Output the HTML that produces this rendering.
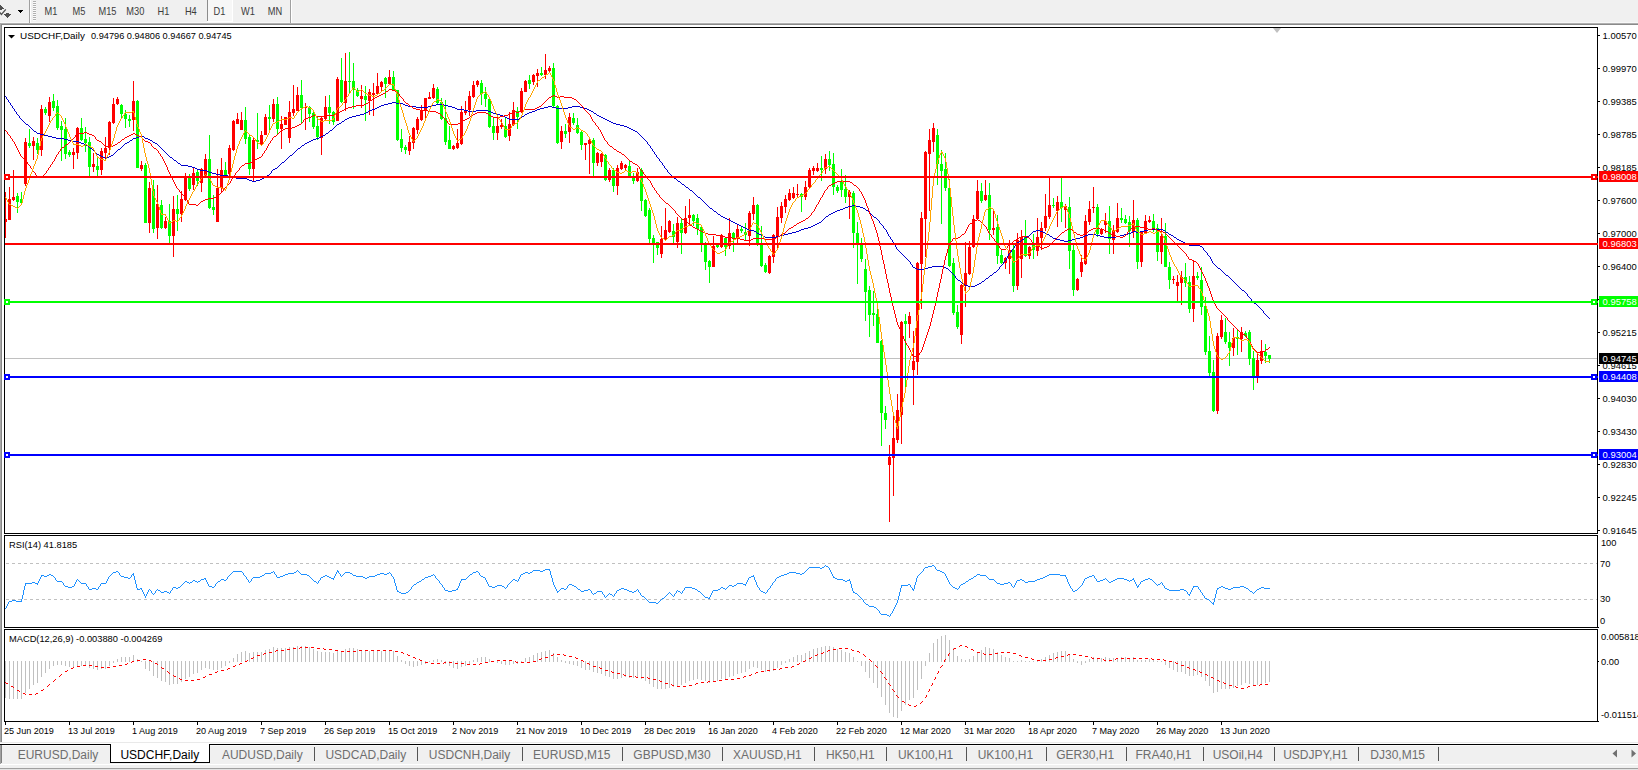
<!DOCTYPE html><html><head><meta charset="utf-8"><title>USDCHF,Daily</title><style>html,body{margin:0;padding:0;background:#fff;width:1638px;height:770px;overflow:hidden}</style></head><body><svg width="1638" height="770" viewBox="0 0 1638 770" style="position:absolute;left:0;top:0;font-family:'Liberation Sans',sans-serif">
<rect x="0" y="0" width="1638" height="770" fill="#ffffff"/>
<g shape-rendering="crispEdges">
<rect x="0" y="0" width="1638" height="23" fill="#f0f0f0"/>
<rect x="0" y="22" width="1638" height="1" fill="#f8f8f8"/>
<rect x="29" y="0" width="1" height="23" fill="#a0a0a0"/><rect x="30" y="0" width="1" height="23" fill="#ffffff"/>
<rect x="33" y="1" width="3" height="1" fill="#b0b0b0"/><rect x="33" y="2" width="3" height="1" fill="#fbfbfb"/>
<rect x="33" y="3" width="3" height="1" fill="#b0b0b0"/><rect x="33" y="4" width="3" height="1" fill="#fbfbfb"/>
<rect x="33" y="5" width="3" height="1" fill="#b0b0b0"/><rect x="33" y="6" width="3" height="1" fill="#fbfbfb"/>
<rect x="33" y="7" width="3" height="1" fill="#b0b0b0"/><rect x="33" y="8" width="3" height="1" fill="#fbfbfb"/>
<rect x="33" y="9" width="3" height="1" fill="#b0b0b0"/><rect x="33" y="10" width="3" height="1" fill="#fbfbfb"/>
<rect x="33" y="11" width="3" height="1" fill="#b0b0b0"/><rect x="33" y="12" width="3" height="1" fill="#fbfbfb"/>
<rect x="33" y="13" width="3" height="1" fill="#b0b0b0"/><rect x="33" y="14" width="3" height="1" fill="#fbfbfb"/>
<rect x="33" y="15" width="3" height="1" fill="#b0b0b0"/><rect x="33" y="16" width="3" height="1" fill="#fbfbfb"/>
<rect x="33" y="17" width="3" height="1" fill="#b0b0b0"/><rect x="33" y="18" width="3" height="1" fill="#fbfbfb"/>
<rect x="33" y="19" width="3" height="1" fill="#b0b0b0"/><rect x="33" y="20" width="3" height="1" fill="#fbfbfb"/>
<rect x="208" y="0" width="24" height="21" fill="#f7f7f7"/>
<rect x="207" y="0" width="1" height="21" fill="#8c8c8c"/>
<rect x="207" y="21" width="26" height="1" fill="#ffffff"/><rect x="232" y="0" width="1" height="21" fill="#ffffff"/>
<rect x="290" y="0" width="1" height="23" fill="#a0a0a0"/><rect x="291" y="0" width="1" height="23" fill="#ffffff"/>
<rect x="18" y="10" width="5" height="1" fill="#000"/><rect x="19" y="11" width="3" height="1" fill="#000"/><rect x="20" y="12" width="1" height="1" fill="#000"/>
<rect x="0" y="5" width="1" height="1" fill="#505050"/>
<rect x="0" y="6" width="2" height="1" fill="#505050"/>
<rect x="0" y="7" width="3" height="1" fill="#505050"/>
<rect x="0" y="8" width="4" height="1" fill="#505050"/>
<rect x="0" y="9" width="2" height="1" fill="#505050"/>
<rect x="6" y="13" width="3" height="1" fill="#505050"/>
<rect x="4" y="14" width="7" height="1" fill="#505050"/>
<rect x="5" y="15" width="5" height="1" fill="#505050"/>
<rect x="6" y="16" width="3" height="1" fill="#505050"/>
<rect x="7" y="17" width="1" height="1" fill="#505050"/>
</g>
<path d="M-0.5 12.2 L1.4 14.4 L5.8 9.4" fill="none" stroke="#505050" stroke-width="1.3"/>
<text transform="translate(51 14.9) scale(0.9000 1)" font-size="10.3" fill="#3c3c3c" text-anchor="middle">M1</text>
<text transform="translate(79 14.9) scale(0.9000 1)" font-size="10.3" fill="#3c3c3c" text-anchor="middle">M5</text>
<text transform="translate(107.5 14.9) scale(0.9000 1)" font-size="10.3" fill="#3c3c3c" text-anchor="middle">M15</text>
<text transform="translate(135.3 14.9) scale(0.9000 1)" font-size="10.3" fill="#3c3c3c" text-anchor="middle">M30</text>
<text transform="translate(163.5 14.9) scale(0.9000 1)" font-size="10.3" fill="#3c3c3c" text-anchor="middle">H1</text>
<text transform="translate(190.8 14.9) scale(0.9000 1)" font-size="10.3" fill="#3c3c3c" text-anchor="middle">H4</text>
<text transform="translate(219.5 14.9) scale(0.9000 1)" font-size="10.3" fill="#3c3c3c" text-anchor="middle">D1</text>
<text transform="translate(248 14.9) scale(0.9000 1)" font-size="10.3" fill="#3c3c3c" text-anchor="middle">W1</text>
<text transform="translate(274.9 14.9) scale(0.9000 1)" font-size="10.3" fill="#3c3c3c" text-anchor="middle">MN</text>
<g shape-rendering="crispEdges">
<rect x="0" y="23" width="1638" height="1" fill="#b0b0b0"/><rect x="0" y="24" width="1638" height="1" fill="#8a8a8a"/>
<rect x="0" y="23" width="1" height="719" fill="#a8a8a8"/><rect x="1" y="24" width="1" height="718" fill="#888888"/>
</g>
<g shape-rendering="crispEdges">
<rect x="1598" y="35" width="2" height="1" fill="#000"/>
<rect x="1598" y="68" width="2" height="1" fill="#000"/>
<rect x="1598" y="101" width="2" height="1" fill="#000"/>
<rect x="1598" y="134" width="2" height="1" fill="#000"/>
<rect x="1598" y="167" width="2" height="1" fill="#000"/>
<rect x="1598" y="200" width="2" height="1" fill="#000"/>
<rect x="1598" y="233" width="2" height="1" fill="#000"/>
<rect x="1598" y="266" width="2" height="1" fill="#000"/>
<rect x="1598" y="299" width="2" height="1" fill="#000"/>
<rect x="1598" y="332" width="2" height="1" fill="#000"/>
<rect x="1598" y="365" width="2" height="1" fill="#000"/>
<rect x="1598" y="398" width="2" height="1" fill="#000"/>
<rect x="1598" y="431" width="2" height="1" fill="#000"/>
<rect x="1598" y="464" width="2" height="1" fill="#000"/>
<rect x="1598" y="497" width="2" height="1" fill="#000"/>
<rect x="1598" y="530" width="2" height="1" fill="#000"/>
</g>
<text transform="translate(1602.6 38.7) scale(0.9530 1)" font-size="9.9" fill="#000" text-anchor="start">1.00570</text>
<text transform="translate(1602.6 71.7) scale(0.9530 1)" font-size="9.9" fill="#000" text-anchor="start">0.99970</text>
<text transform="translate(1602.6 104.7) scale(0.9530 1)" font-size="9.9" fill="#000" text-anchor="start">0.99385</text>
<text transform="translate(1602.6 137.7) scale(0.9530 1)" font-size="9.9" fill="#000" text-anchor="start">0.98785</text>
<text transform="translate(1602.6 170.7) scale(0.9530 1)" font-size="9.9" fill="#000" text-anchor="start">0.98185</text>
<text transform="translate(1602.6 203.7) scale(0.9530 1)" font-size="9.9" fill="#000" text-anchor="start">0.97600</text>
<text transform="translate(1602.6 236.7) scale(0.9530 1)" font-size="9.9" fill="#000" text-anchor="start">0.97000</text>
<text transform="translate(1602.6 269.7) scale(0.9530 1)" font-size="9.9" fill="#000" text-anchor="start">0.96400</text>
<text transform="translate(1602.6 302.7) scale(0.9530 1)" font-size="9.9" fill="#000" text-anchor="start">0.95800</text>
<text transform="translate(1602.6 335.7) scale(0.9530 1)" font-size="9.9" fill="#000" text-anchor="start">0.95215</text>
<text transform="translate(1602.6 368.7) scale(0.9530 1)" font-size="9.9" fill="#000" text-anchor="start">0.94615</text>
<text transform="translate(1602.6 401.7) scale(0.9530 1)" font-size="9.9" fill="#000" text-anchor="start">0.94030</text>
<text transform="translate(1602.6 434.7) scale(0.9530 1)" font-size="9.9" fill="#000" text-anchor="start">0.93430</text>
<text transform="translate(1602.6 467.7) scale(0.9530 1)" font-size="9.9" fill="#000" text-anchor="start">0.92830</text>
<text transform="translate(1602.6 500.7) scale(0.9530 1)" font-size="9.9" fill="#000" text-anchor="start">0.92245</text>
<text transform="translate(1602.6 533.7) scale(0.9530 1)" font-size="9.9" fill="#000" text-anchor="start">0.91645</text>
<g shape-rendering="crispEdges">
<rect x="5" y="358" width="1593" height="1" fill="#c0c0c0"/>
</g>
<g shape-rendering="crispEdges">
<rect x="5" y="192" width="1" height="46" fill="#ff0000"/>
<rect x="4" y="219" width="3" height="3" fill="#ff0000"/>
<rect x="9" y="187" width="1" height="33" fill="#ff0000"/>
<rect x="8" y="199" width="3" height="21" fill="#ff0000"/>
<rect x="13" y="170" width="1" height="31" fill="#ff0000"/>
<rect x="12" y="197" width="3" height="3" fill="#ff0000"/>
<rect x="17" y="193" width="1" height="20" fill="#00ff00"/>
<rect x="16" y="196" width="3" height="6" fill="#00ff00"/>
<rect x="21" y="192" width="1" height="12" fill="#00ff00"/>
<rect x="20" y="199" width="3" height="4" fill="#00ff00"/>
<rect x="25" y="138" width="1" height="48" fill="#ff0000"/>
<rect x="24" y="142" width="3" height="42" fill="#ff0000"/>
<rect x="29" y="129" width="1" height="19" fill="#00ff00"/>
<rect x="28" y="143" width="3" height="3" fill="#00ff00"/>
<rect x="33" y="137" width="1" height="23" fill="#ff0000"/>
<rect x="32" y="141" width="3" height="5" fill="#ff0000"/>
<rect x="37" y="138" width="1" height="16" fill="#00ff00"/>
<rect x="36" y="143" width="3" height="7" fill="#00ff00"/>
<rect x="41" y="105" width="1" height="51" fill="#ff0000"/>
<rect x="40" y="109" width="3" height="41" fill="#ff0000"/>
<rect x="45" y="107" width="1" height="8" fill="#00ff00"/>
<rect x="44" y="109" width="3" height="4" fill="#00ff00"/>
<rect x="49" y="97" width="1" height="25" fill="#ff0000"/>
<rect x="48" y="102" width="3" height="14" fill="#ff0000"/>
<rect x="53" y="94" width="1" height="17" fill="#00ff00"/>
<rect x="52" y="101" width="3" height="7" fill="#00ff00"/>
<rect x="57" y="100" width="1" height="30" fill="#00ff00"/>
<rect x="56" y="106" width="3" height="22" fill="#00ff00"/>
<rect x="61" y="121" width="1" height="40" fill="#00ff00"/>
<rect x="60" y="126" width="3" height="4" fill="#00ff00"/>
<rect x="65" y="118" width="1" height="41" fill="#00ff00"/>
<rect x="64" y="129" width="3" height="25" fill="#00ff00"/>
<rect x="69" y="150" width="1" height="7" fill="#00ff00"/>
<rect x="68" y="152" width="3" height="3" fill="#00ff00"/>
<rect x="73" y="148" width="1" height="21" fill="#ff0000"/>
<rect x="72" y="152" width="3" height="3" fill="#ff0000"/>
<rect x="77" y="127" width="1" height="32" fill="#ff0000"/>
<rect x="76" y="128" width="3" height="25" fill="#ff0000"/>
<rect x="81" y="118" width="1" height="23" fill="#00ff00"/>
<rect x="80" y="128" width="3" height="12" fill="#00ff00"/>
<rect x="85" y="127" width="1" height="25" fill="#00ff00"/>
<rect x="84" y="139" width="3" height="4" fill="#00ff00"/>
<rect x="89" y="137" width="1" height="39" fill="#00ff00"/>
<rect x="88" y="142" width="3" height="25" fill="#00ff00"/>
<rect x="93" y="153" width="1" height="19" fill="#ff0000"/>
<rect x="92" y="164" width="3" height="3" fill="#ff0000"/>
<rect x="97" y="158" width="1" height="18" fill="#00ff00"/>
<rect x="96" y="166" width="3" height="4" fill="#00ff00"/>
<rect x="101" y="148" width="1" height="27" fill="#ff0000"/>
<rect x="100" y="151" width="3" height="19" fill="#ff0000"/>
<rect x="105" y="137" width="1" height="22" fill="#ff0000"/>
<rect x="104" y="148" width="3" height="5" fill="#ff0000"/>
<rect x="109" y="121" width="1" height="34" fill="#ff0000"/>
<rect x="108" y="122" width="3" height="26" fill="#ff0000"/>
<rect x="113" y="98" width="1" height="26" fill="#ff0000"/>
<rect x="112" y="104" width="3" height="19" fill="#ff0000"/>
<rect x="117" y="97" width="1" height="8" fill="#ff0000"/>
<rect x="116" y="99" width="3" height="5" fill="#ff0000"/>
<rect x="121" y="104" width="1" height="15" fill="#00ff00"/>
<rect x="120" y="105" width="3" height="9" fill="#00ff00"/>
<rect x="125" y="110" width="1" height="18" fill="#00ff00"/>
<rect x="124" y="114" width="3" height="5" fill="#00ff00"/>
<rect x="129" y="115" width="1" height="12" fill="#00ff00"/>
<rect x="128" y="119" width="3" height="2" fill="#00ff00"/>
<rect x="133" y="81" width="1" height="50" fill="#ff0000"/>
<rect x="132" y="101" width="3" height="19" fill="#ff0000"/>
<rect x="137" y="100" width="1" height="68" fill="#00ff00"/>
<rect x="136" y="101" width="3" height="67" fill="#00ff00"/>
<rect x="141" y="161" width="1" height="10" fill="#ff0000"/>
<rect x="140" y="165" width="3" height="4" fill="#ff0000"/>
<rect x="145" y="163" width="1" height="60" fill="#00ff00"/>
<rect x="144" y="165" width="3" height="58" fill="#00ff00"/>
<rect x="149" y="182" width="1" height="51" fill="#ff0000"/>
<rect x="148" y="188" width="3" height="35" fill="#ff0000"/>
<rect x="153" y="180" width="1" height="53" fill="#00ff00"/>
<rect x="152" y="189" width="3" height="40" fill="#00ff00"/>
<rect x="157" y="185" width="1" height="54" fill="#ff0000"/>
<rect x="156" y="204" width="3" height="24" fill="#ff0000"/>
<rect x="161" y="200" width="1" height="29" fill="#00ff00"/>
<rect x="160" y="205" width="3" height="23" fill="#00ff00"/>
<rect x="165" y="217" width="1" height="12" fill="#ff0000"/>
<rect x="164" y="221" width="3" height="7" fill="#ff0000"/>
<rect x="169" y="204" width="1" height="39" fill="#00ff00"/>
<rect x="168" y="221" width="3" height="15" fill="#00ff00"/>
<rect x="173" y="196" width="1" height="61" fill="#ff0000"/>
<rect x="172" y="209" width="3" height="27" fill="#ff0000"/>
<rect x="177" y="195" width="1" height="36" fill="#00ff00"/>
<rect x="176" y="209" width="3" height="5" fill="#00ff00"/>
<rect x="181" y="191" width="1" height="31" fill="#ff0000"/>
<rect x="180" y="199" width="3" height="15" fill="#ff0000"/>
<rect x="185" y="173" width="1" height="28" fill="#ff0000"/>
<rect x="184" y="178" width="3" height="22" fill="#ff0000"/>
<rect x="189" y="174" width="1" height="17" fill="#00ff00"/>
<rect x="188" y="178" width="3" height="11" fill="#00ff00"/>
<rect x="193" y="167" width="1" height="23" fill="#ff0000"/>
<rect x="192" y="173" width="3" height="12" fill="#ff0000"/>
<rect x="197" y="170" width="1" height="16" fill="#00ff00"/>
<rect x="196" y="172" width="3" height="9" fill="#00ff00"/>
<rect x="201" y="168" width="1" height="24" fill="#ff0000"/>
<rect x="200" y="169" width="3" height="14" fill="#ff0000"/>
<rect x="205" y="154" width="1" height="23" fill="#ff0000"/>
<rect x="204" y="159" width="3" height="16" fill="#ff0000"/>
<rect x="209" y="135" width="1" height="74" fill="#00ff00"/>
<rect x="208" y="159" width="3" height="49" fill="#00ff00"/>
<rect x="213" y="195" width="1" height="20" fill="#00ff00"/>
<rect x="212" y="207" width="3" height="3" fill="#00ff00"/>
<rect x="217" y="169" width="1" height="53" fill="#ff0000"/>
<rect x="216" y="188" width="3" height="34" fill="#ff0000"/>
<rect x="221" y="158" width="1" height="35" fill="#ff0000"/>
<rect x="220" y="170" width="3" height="18" fill="#ff0000"/>
<rect x="225" y="162" width="1" height="15" fill="#00ff00"/>
<rect x="224" y="170" width="3" height="5" fill="#00ff00"/>
<rect x="229" y="145" width="1" height="31" fill="#ff0000"/>
<rect x="228" y="148" width="3" height="26" fill="#ff0000"/>
<rect x="233" y="120" width="1" height="31" fill="#ff0000"/>
<rect x="232" y="121" width="3" height="29" fill="#ff0000"/>
<rect x="237" y="113" width="1" height="11" fill="#ff0000"/>
<rect x="236" y="119" width="3" height="5" fill="#ff0000"/>
<rect x="241" y="112" width="1" height="18" fill="#ff0000"/>
<rect x="240" y="120" width="3" height="10" fill="#ff0000"/>
<rect x="245" y="107" width="1" height="37" fill="#00ff00"/>
<rect x="244" y="120" width="3" height="19" fill="#00ff00"/>
<rect x="249" y="134" width="1" height="41" fill="#00ff00"/>
<rect x="248" y="137" width="3" height="32" fill="#00ff00"/>
<rect x="253" y="138" width="1" height="43" fill="#ff0000"/>
<rect x="252" y="140" width="3" height="29" fill="#ff0000"/>
<rect x="257" y="113" width="1" height="36" fill="#00ff00"/>
<rect x="256" y="140" width="3" height="2" fill="#00ff00"/>
<rect x="261" y="131" width="1" height="15" fill="#ff0000"/>
<rect x="260" y="135" width="3" height="9" fill="#ff0000"/>
<rect x="265" y="114" width="1" height="21" fill="#ff0000"/>
<rect x="264" y="117" width="3" height="18" fill="#ff0000"/>
<rect x="269" y="105" width="1" height="25" fill="#00ff00"/>
<rect x="268" y="117" width="3" height="2" fill="#00ff00"/>
<rect x="273" y="99" width="1" height="23" fill="#ff0000"/>
<rect x="272" y="104" width="3" height="15" fill="#ff0000"/>
<rect x="277" y="97" width="1" height="37" fill="#00ff00"/>
<rect x="276" y="104" width="3" height="25" fill="#00ff00"/>
<rect x="281" y="116" width="1" height="33" fill="#ff0000"/>
<rect x="280" y="124" width="3" height="5" fill="#ff0000"/>
<rect x="285" y="117" width="1" height="8" fill="#ff0000"/>
<rect x="284" y="117" width="3" height="8" fill="#ff0000"/>
<rect x="289" y="101" width="1" height="42" fill="#ff0000"/>
<rect x="288" y="112" width="3" height="26" fill="#ff0000"/>
<rect x="293" y="85" width="1" height="31" fill="#ff0000"/>
<rect x="292" y="109" width="3" height="4" fill="#ff0000"/>
<rect x="297" y="87" width="1" height="24" fill="#ff0000"/>
<rect x="296" y="95" width="3" height="16" fill="#ff0000"/>
<rect x="301" y="80" width="1" height="44" fill="#00ff00"/>
<rect x="300" y="95" width="3" height="13" fill="#00ff00"/>
<rect x="305" y="103" width="1" height="27" fill="#ff0000"/>
<rect x="304" y="107" width="3" height="1" fill="#ff0000"/>
<rect x="309" y="106" width="1" height="16" fill="#00ff00"/>
<rect x="308" y="107" width="3" height="7" fill="#00ff00"/>
<rect x="313" y="111" width="1" height="18" fill="#00ff00"/>
<rect x="312" y="113" width="3" height="14" fill="#00ff00"/>
<rect x="317" y="117" width="1" height="23" fill="#00ff00"/>
<rect x="316" y="126" width="3" height="11" fill="#00ff00"/>
<rect x="321" y="117" width="1" height="38" fill="#ff0000"/>
<rect x="320" y="118" width="3" height="20" fill="#ff0000"/>
<rect x="325" y="96" width="1" height="24" fill="#ff0000"/>
<rect x="324" y="107" width="3" height="12" fill="#ff0000"/>
<rect x="329" y="95" width="1" height="29" fill="#00ff00"/>
<rect x="328" y="107" width="3" height="6" fill="#00ff00"/>
<rect x="333" y="111" width="1" height="14" fill="#00ff00"/>
<rect x="332" y="112" width="3" height="10" fill="#00ff00"/>
<rect x="337" y="77" width="1" height="44" fill="#ff0000"/>
<rect x="336" y="79" width="3" height="42" fill="#ff0000"/>
<rect x="341" y="58" width="1" height="45" fill="#00ff00"/>
<rect x="340" y="80" width="3" height="22" fill="#00ff00"/>
<rect x="345" y="53" width="1" height="58" fill="#ff0000"/>
<rect x="344" y="81" width="3" height="22" fill="#ff0000"/>
<rect x="349" y="52" width="1" height="42" fill="#00ff00"/>
<rect x="348" y="81" width="3" height="1" fill="#00ff00"/>
<rect x="353" y="63" width="1" height="46" fill="#00ff00"/>
<rect x="352" y="81" width="3" height="9" fill="#00ff00"/>
<rect x="357" y="88" width="1" height="9" fill="#00ff00"/>
<rect x="356" y="90" width="3" height="6" fill="#00ff00"/>
<rect x="361" y="85" width="1" height="23" fill="#ff0000"/>
<rect x="360" y="96" width="3" height="3" fill="#ff0000"/>
<rect x="365" y="86" width="1" height="35" fill="#00ff00"/>
<rect x="364" y="96" width="3" height="4" fill="#00ff00"/>
<rect x="369" y="89" width="1" height="26" fill="#ff0000"/>
<rect x="368" y="92" width="3" height="9" fill="#ff0000"/>
<rect x="373" y="83" width="1" height="33" fill="#ff0000"/>
<rect x="372" y="93" width="3" height="2" fill="#ff0000"/>
<rect x="377" y="73" width="1" height="21" fill="#ff0000"/>
<rect x="376" y="86" width="3" height="8" fill="#ff0000"/>
<rect x="381" y="81" width="1" height="11" fill="#ff0000"/>
<rect x="380" y="82" width="3" height="5" fill="#ff0000"/>
<rect x="385" y="77" width="1" height="21" fill="#00ff00"/>
<rect x="384" y="78" width="3" height="6" fill="#00ff00"/>
<rect x="389" y="70" width="1" height="15" fill="#ff0000"/>
<rect x="388" y="77" width="3" height="7" fill="#ff0000"/>
<rect x="393" y="71" width="1" height="20" fill="#00ff00"/>
<rect x="392" y="77" width="3" height="13" fill="#00ff00"/>
<rect x="397" y="90" width="1" height="51" fill="#00ff00"/>
<rect x="396" y="90" width="3" height="50" fill="#00ff00"/>
<rect x="401" y="129" width="1" height="23" fill="#00ff00"/>
<rect x="400" y="139" width="3" height="9" fill="#00ff00"/>
<rect x="405" y="145" width="1" height="9" fill="#00ff00"/>
<rect x="404" y="147" width="3" height="3" fill="#00ff00"/>
<rect x="409" y="136" width="1" height="19" fill="#ff0000"/>
<rect x="408" y="142" width="3" height="9" fill="#ff0000"/>
<rect x="413" y="127" width="1" height="22" fill="#ff0000"/>
<rect x="412" y="128" width="3" height="15" fill="#ff0000"/>
<rect x="417" y="117" width="1" height="17" fill="#ff0000"/>
<rect x="416" y="119" width="3" height="11" fill="#ff0000"/>
<rect x="421" y="105" width="1" height="16" fill="#ff0000"/>
<rect x="420" y="110" width="3" height="10" fill="#ff0000"/>
<rect x="425" y="98" width="1" height="20" fill="#ff0000"/>
<rect x="424" y="98" width="3" height="12" fill="#ff0000"/>
<rect x="429" y="92" width="1" height="7" fill="#ff0000"/>
<rect x="428" y="97" width="3" height="2" fill="#ff0000"/>
<rect x="433" y="84" width="1" height="15" fill="#ff0000"/>
<rect x="432" y="88" width="3" height="10" fill="#ff0000"/>
<rect x="437" y="87" width="1" height="17" fill="#00ff00"/>
<rect x="436" y="89" width="3" height="14" fill="#00ff00"/>
<rect x="441" y="98" width="1" height="22" fill="#00ff00"/>
<rect x="440" y="102" width="3" height="17" fill="#00ff00"/>
<rect x="445" y="100" width="1" height="45" fill="#00ff00"/>
<rect x="444" y="118" width="3" height="24" fill="#00ff00"/>
<rect x="449" y="126" width="1" height="23" fill="#00ff00"/>
<rect x="448" y="140" width="3" height="9" fill="#00ff00"/>
<rect x="453" y="145" width="1" height="5" fill="#ff0000"/>
<rect x="452" y="146" width="3" height="3" fill="#ff0000"/>
<rect x="457" y="129" width="1" height="20" fill="#ff0000"/>
<rect x="456" y="143" width="3" height="5" fill="#ff0000"/>
<rect x="461" y="106" width="1" height="39" fill="#ff0000"/>
<rect x="460" y="112" width="3" height="32" fill="#ff0000"/>
<rect x="465" y="101" width="1" height="14" fill="#ff0000"/>
<rect x="464" y="110" width="3" height="3" fill="#ff0000"/>
<rect x="469" y="91" width="1" height="25" fill="#ff0000"/>
<rect x="468" y="96" width="3" height="14" fill="#ff0000"/>
<rect x="473" y="81" width="1" height="17" fill="#ff0000"/>
<rect x="472" y="85" width="3" height="12" fill="#ff0000"/>
<rect x="477" y="80" width="1" height="7" fill="#ff0000"/>
<rect x="476" y="81" width="3" height="4" fill="#ff0000"/>
<rect x="481" y="80" width="1" height="25" fill="#00ff00"/>
<rect x="480" y="83" width="3" height="11" fill="#00ff00"/>
<rect x="485" y="87" width="1" height="20" fill="#00ff00"/>
<rect x="484" y="94" width="3" height="5" fill="#00ff00"/>
<rect x="489" y="98" width="1" height="30" fill="#00ff00"/>
<rect x="488" y="99" width="3" height="28" fill="#00ff00"/>
<rect x="493" y="118" width="1" height="22" fill="#00ff00"/>
<rect x="492" y="126" width="3" height="7" fill="#00ff00"/>
<rect x="497" y="117" width="1" height="23" fill="#ff0000"/>
<rect x="496" y="126" width="3" height="7" fill="#ff0000"/>
<rect x="501" y="119" width="1" height="10" fill="#ff0000"/>
<rect x="500" y="125" width="3" height="2" fill="#ff0000"/>
<rect x="505" y="117" width="1" height="21" fill="#00ff00"/>
<rect x="504" y="126" width="3" height="11" fill="#00ff00"/>
<rect x="509" y="112" width="1" height="29" fill="#ff0000"/>
<rect x="508" y="124" width="3" height="12" fill="#ff0000"/>
<rect x="513" y="102" width="1" height="24" fill="#ff0000"/>
<rect x="512" y="110" width="3" height="15" fill="#ff0000"/>
<rect x="517" y="107" width="1" height="22" fill="#00ff00"/>
<rect x="516" y="111" width="3" height="6" fill="#00ff00"/>
<rect x="521" y="88" width="1" height="25" fill="#ff0000"/>
<rect x="520" y="91" width="3" height="21" fill="#ff0000"/>
<rect x="525" y="80" width="1" height="12" fill="#ff0000"/>
<rect x="524" y="81" width="3" height="11" fill="#ff0000"/>
<rect x="529" y="75" width="1" height="14" fill="#00ff00"/>
<rect x="528" y="80" width="3" height="4" fill="#00ff00"/>
<rect x="533" y="74" width="1" height="11" fill="#ff0000"/>
<rect x="532" y="75" width="3" height="7" fill="#ff0000"/>
<rect x="537" y="69" width="1" height="18" fill="#ff0000"/>
<rect x="536" y="73" width="3" height="3" fill="#ff0000"/>
<rect x="541" y="67" width="1" height="9" fill="#00ff00"/>
<rect x="540" y="73" width="3" height="2" fill="#00ff00"/>
<rect x="545" y="54" width="1" height="25" fill="#ff0000"/>
<rect x="544" y="70" width="3" height="5" fill="#ff0000"/>
<rect x="549" y="66" width="1" height="6" fill="#ff0000"/>
<rect x="548" y="68" width="3" height="3" fill="#ff0000"/>
<rect x="553" y="63" width="1" height="44" fill="#00ff00"/>
<rect x="552" y="68" width="3" height="38" fill="#00ff00"/>
<rect x="557" y="105" width="1" height="39" fill="#00ff00"/>
<rect x="556" y="106" width="3" height="37" fill="#00ff00"/>
<rect x="561" y="126" width="1" height="23" fill="#ff0000"/>
<rect x="560" y="131" width="3" height="11" fill="#ff0000"/>
<rect x="565" y="124" width="1" height="14" fill="#00ff00"/>
<rect x="564" y="131" width="3" height="3" fill="#00ff00"/>
<rect x="569" y="113" width="1" height="30" fill="#ff0000"/>
<rect x="568" y="117" width="3" height="15" fill="#ff0000"/>
<rect x="573" y="113" width="1" height="12" fill="#00ff00"/>
<rect x="572" y="118" width="3" height="5" fill="#00ff00"/>
<rect x="577" y="118" width="1" height="16" fill="#00ff00"/>
<rect x="576" y="125" width="3" height="8" fill="#00ff00"/>
<rect x="581" y="130" width="1" height="20" fill="#00ff00"/>
<rect x="580" y="132" width="3" height="13" fill="#00ff00"/>
<rect x="585" y="143" width="1" height="17" fill="#ff0000"/>
<rect x="584" y="143" width="3" height="2" fill="#ff0000"/>
<rect x="589" y="138" width="1" height="36" fill="#ff0000"/>
<rect x="588" y="140" width="3" height="4" fill="#ff0000"/>
<rect x="593" y="138" width="1" height="38" fill="#00ff00"/>
<rect x="592" y="140" width="3" height="23" fill="#00ff00"/>
<rect x="597" y="152" width="1" height="14" fill="#ff0000"/>
<rect x="596" y="153" width="3" height="10" fill="#ff0000"/>
<rect x="601" y="153" width="1" height="14" fill="#ff0000"/>
<rect x="600" y="154" width="3" height="8" fill="#ff0000"/>
<rect x="605" y="154" width="1" height="27" fill="#00ff00"/>
<rect x="604" y="155" width="3" height="25" fill="#00ff00"/>
<rect x="609" y="168" width="1" height="14" fill="#ff0000"/>
<rect x="608" y="170" width="3" height="10" fill="#ff0000"/>
<rect x="613" y="168" width="1" height="24" fill="#00ff00"/>
<rect x="612" y="170" width="3" height="16" fill="#00ff00"/>
<rect x="617" y="165" width="1" height="30" fill="#ff0000"/>
<rect x="616" y="168" width="3" height="18" fill="#ff0000"/>
<rect x="621" y="161" width="1" height="9" fill="#ff0000"/>
<rect x="620" y="163" width="3" height="6" fill="#ff0000"/>
<rect x="625" y="164" width="1" height="7" fill="#ff0000"/>
<rect x="624" y="165" width="3" height="3" fill="#ff0000"/>
<rect x="629" y="161" width="1" height="17" fill="#00ff00"/>
<rect x="628" y="166" width="3" height="11" fill="#00ff00"/>
<rect x="633" y="173" width="1" height="11" fill="#00ff00"/>
<rect x="632" y="178" width="3" height="3" fill="#00ff00"/>
<rect x="637" y="168" width="1" height="14" fill="#ff0000"/>
<rect x="636" y="172" width="3" height="9" fill="#ff0000"/>
<rect x="641" y="168" width="1" height="43" fill="#00ff00"/>
<rect x="640" y="170" width="3" height="31" fill="#00ff00"/>
<rect x="645" y="199" width="1" height="18" fill="#00ff00"/>
<rect x="644" y="200" width="3" height="16" fill="#00ff00"/>
<rect x="649" y="208" width="1" height="35" fill="#00ff00"/>
<rect x="648" y="210" width="3" height="29" fill="#00ff00"/>
<rect x="653" y="235" width="1" height="28" fill="#00ff00"/>
<rect x="652" y="238" width="3" height="5" fill="#00ff00"/>
<rect x="657" y="242" width="1" height="13" fill="#00ff00"/>
<rect x="656" y="242" width="3" height="6" fill="#00ff00"/>
<rect x="661" y="226" width="1" height="32" fill="#ff0000"/>
<rect x="660" y="239" width="3" height="15" fill="#ff0000"/>
<rect x="665" y="208" width="1" height="33" fill="#ff0000"/>
<rect x="664" y="230" width="3" height="9" fill="#ff0000"/>
<rect x="669" y="220" width="1" height="13" fill="#ff0000"/>
<rect x="668" y="221" width="3" height="11" fill="#ff0000"/>
<rect x="673" y="224" width="1" height="19" fill="#00ff00"/>
<rect x="672" y="231" width="3" height="6" fill="#00ff00"/>
<rect x="677" y="217" width="1" height="31" fill="#ff0000"/>
<rect x="676" y="223" width="3" height="19" fill="#ff0000"/>
<rect x="681" y="218" width="1" height="36" fill="#00ff00"/>
<rect x="680" y="223" width="3" height="10" fill="#00ff00"/>
<rect x="685" y="206" width="1" height="28" fill="#ff0000"/>
<rect x="684" y="218" width="3" height="15" fill="#ff0000"/>
<rect x="689" y="199" width="1" height="25" fill="#ff0000"/>
<rect x="688" y="215" width="3" height="3" fill="#ff0000"/>
<rect x="693" y="214" width="1" height="12" fill="#00ff00"/>
<rect x="692" y="215" width="3" height="6" fill="#00ff00"/>
<rect x="697" y="214" width="1" height="21" fill="#00ff00"/>
<rect x="696" y="218" width="3" height="11" fill="#00ff00"/>
<rect x="701" y="226" width="1" height="26" fill="#00ff00"/>
<rect x="700" y="227" width="3" height="16" fill="#00ff00"/>
<rect x="705" y="242" width="1" height="28" fill="#00ff00"/>
<rect x="704" y="243" width="3" height="19" fill="#00ff00"/>
<rect x="709" y="260" width="1" height="23" fill="#00ff00"/>
<rect x="708" y="261" width="3" height="6" fill="#00ff00"/>
<rect x="713" y="236" width="1" height="31" fill="#ff0000"/>
<rect x="712" y="246" width="3" height="21" fill="#ff0000"/>
<rect x="717" y="244" width="1" height="4" fill="#00ff00"/>
<rect x="716" y="245" width="3" height="2" fill="#00ff00"/>
<rect x="721" y="234" width="1" height="14" fill="#ff0000"/>
<rect x="720" y="236" width="3" height="11" fill="#ff0000"/>
<rect x="725" y="237" width="1" height="19" fill="#00ff00"/>
<rect x="724" y="238" width="3" height="9" fill="#00ff00"/>
<rect x="729" y="218" width="1" height="31" fill="#ff0000"/>
<rect x="728" y="233" width="3" height="13" fill="#ff0000"/>
<rect x="733" y="232" width="1" height="20" fill="#00ff00"/>
<rect x="732" y="233" width="3" height="6" fill="#00ff00"/>
<rect x="737" y="224" width="1" height="19" fill="#ff0000"/>
<rect x="736" y="229" width="3" height="10" fill="#ff0000"/>
<rect x="741" y="226" width="1" height="7" fill="#00ff00"/>
<rect x="740" y="229" width="3" height="2" fill="#00ff00"/>
<rect x="745" y="223" width="1" height="18" fill="#00ff00"/>
<rect x="744" y="232" width="3" height="3" fill="#00ff00"/>
<rect x="749" y="211" width="1" height="35" fill="#ff0000"/>
<rect x="748" y="213" width="3" height="23" fill="#ff0000"/>
<rect x="753" y="197" width="1" height="23" fill="#ff0000"/>
<rect x="752" y="205" width="3" height="9" fill="#ff0000"/>
<rect x="757" y="204" width="1" height="42" fill="#00ff00"/>
<rect x="756" y="205" width="3" height="38" fill="#00ff00"/>
<rect x="761" y="226" width="1" height="41" fill="#00ff00"/>
<rect x="760" y="243" width="3" height="23" fill="#00ff00"/>
<rect x="765" y="263" width="1" height="10" fill="#00ff00"/>
<rect x="764" y="265" width="3" height="7" fill="#00ff00"/>
<rect x="769" y="255" width="1" height="19" fill="#ff0000"/>
<rect x="768" y="256" width="3" height="17" fill="#ff0000"/>
<rect x="773" y="234" width="1" height="29" fill="#ff0000"/>
<rect x="772" y="235" width="3" height="22" fill="#ff0000"/>
<rect x="777" y="207" width="1" height="41" fill="#ff0000"/>
<rect x="776" y="217" width="3" height="19" fill="#ff0000"/>
<rect x="781" y="202" width="1" height="21" fill="#ff0000"/>
<rect x="780" y="206" width="3" height="12" fill="#ff0000"/>
<rect x="785" y="195" width="1" height="18" fill="#ff0000"/>
<rect x="784" y="199" width="3" height="8" fill="#ff0000"/>
<rect x="789" y="189" width="1" height="12" fill="#ff0000"/>
<rect x="788" y="193" width="3" height="7" fill="#ff0000"/>
<rect x="793" y="187" width="1" height="12" fill="#ff0000"/>
<rect x="792" y="193" width="3" height="5" fill="#ff0000"/>
<rect x="797" y="184" width="1" height="14" fill="#ff0000"/>
<rect x="796" y="194" width="3" height="1" fill="#ff0000"/>
<rect x="801" y="193" width="1" height="19" fill="#00ff00"/>
<rect x="800" y="194" width="3" height="3" fill="#00ff00"/>
<rect x="805" y="181" width="1" height="19" fill="#ff0000"/>
<rect x="804" y="187" width="3" height="10" fill="#ff0000"/>
<rect x="809" y="168" width="1" height="20" fill="#ff0000"/>
<rect x="808" y="170" width="3" height="17" fill="#ff0000"/>
<rect x="813" y="166" width="1" height="9" fill="#ff0000"/>
<rect x="812" y="168" width="3" height="3" fill="#ff0000"/>
<rect x="817" y="163" width="1" height="9" fill="#ff0000"/>
<rect x="816" y="168" width="3" height="3" fill="#ff0000"/>
<rect x="821" y="156" width="1" height="25" fill="#00ff00"/>
<rect x="820" y="168" width="3" height="2" fill="#00ff00"/>
<rect x="825" y="154" width="1" height="20" fill="#ff0000"/>
<rect x="824" y="159" width="3" height="10" fill="#ff0000"/>
<rect x="829" y="151" width="1" height="20" fill="#00ff00"/>
<rect x="828" y="159" width="3" height="6" fill="#00ff00"/>
<rect x="833" y="153" width="1" height="42" fill="#00ff00"/>
<rect x="832" y="164" width="3" height="23" fill="#00ff00"/>
<rect x="837" y="185" width="1" height="8" fill="#00ff00"/>
<rect x="836" y="187" width="3" height="4" fill="#00ff00"/>
<rect x="841" y="169" width="1" height="28" fill="#00ff00"/>
<rect x="840" y="181" width="3" height="9" fill="#00ff00"/>
<rect x="845" y="175" width="1" height="28" fill="#00ff00"/>
<rect x="844" y="189" width="3" height="8" fill="#00ff00"/>
<rect x="849" y="190" width="1" height="29" fill="#ff0000"/>
<rect x="848" y="192" width="3" height="5" fill="#ff0000"/>
<rect x="853" y="191" width="1" height="57" fill="#00ff00"/>
<rect x="852" y="193" width="3" height="40" fill="#00ff00"/>
<rect x="857" y="222" width="1" height="62" fill="#00ff00"/>
<rect x="856" y="233" width="3" height="10" fill="#00ff00"/>
<rect x="861" y="238" width="1" height="24" fill="#00ff00"/>
<rect x="860" y="243" width="3" height="16" fill="#00ff00"/>
<rect x="865" y="259" width="1" height="62" fill="#00ff00"/>
<rect x="864" y="269" width="3" height="23" fill="#00ff00"/>
<rect x="869" y="286" width="1" height="51" fill="#00ff00"/>
<rect x="868" y="290" width="3" height="25" fill="#00ff00"/>
<rect x="873" y="291" width="1" height="35" fill="#00ff00"/>
<rect x="872" y="313" width="3" height="2" fill="#00ff00"/>
<rect x="877" y="308" width="1" height="35" fill="#00ff00"/>
<rect x="876" y="314" width="3" height="29" fill="#00ff00"/>
<rect x="881" y="340" width="1" height="106" fill="#00ff00"/>
<rect x="880" y="341" width="3" height="72" fill="#00ff00"/>
<rect x="885" y="406" width="1" height="23" fill="#00ff00"/>
<rect x="884" y="413" width="3" height="7" fill="#00ff00"/>
<rect x="889" y="445" width="1" height="77" fill="#ff0000"/>
<rect x="888" y="457" width="3" height="8" fill="#ff0000"/>
<rect x="893" y="416" width="1" height="80" fill="#ff0000"/>
<rect x="892" y="438" width="3" height="20" fill="#ff0000"/>
<rect x="897" y="394" width="1" height="49" fill="#ff0000"/>
<rect x="896" y="410" width="3" height="30" fill="#ff0000"/>
<rect x="901" y="321" width="1" height="123" fill="#ff0000"/>
<rect x="900" y="322" width="3" height="93" fill="#ff0000"/>
<rect x="905" y="314" width="1" height="73" fill="#00ff00"/>
<rect x="904" y="321" width="3" height="3" fill="#00ff00"/>
<rect x="909" y="312" width="1" height="26" fill="#ff0000"/>
<rect x="908" y="316" width="3" height="8" fill="#ff0000"/>
<rect x="913" y="331" width="1" height="74" fill="#ff0000"/>
<rect x="912" y="361" width="3" height="9" fill="#ff0000"/>
<rect x="917" y="262" width="1" height="113" fill="#ff0000"/>
<rect x="916" y="263" width="3" height="99" fill="#ff0000"/>
<rect x="921" y="212" width="1" height="97" fill="#ff0000"/>
<rect x="920" y="218" width="3" height="46" fill="#ff0000"/>
<rect x="925" y="151" width="1" height="106" fill="#ff0000"/>
<rect x="924" y="152" width="3" height="67" fill="#ff0000"/>
<rect x="929" y="129" width="1" height="82" fill="#ff0000"/>
<rect x="928" y="140" width="3" height="14" fill="#ff0000"/>
<rect x="933" y="123" width="1" height="29" fill="#ff0000"/>
<rect x="932" y="128" width="3" height="14" fill="#ff0000"/>
<rect x="937" y="129" width="1" height="56" fill="#00ff00"/>
<rect x="936" y="135" width="3" height="29" fill="#00ff00"/>
<rect x="941" y="150" width="1" height="74" fill="#00ff00"/>
<rect x="940" y="164" width="3" height="7" fill="#00ff00"/>
<rect x="945" y="153" width="1" height="38" fill="#00ff00"/>
<rect x="944" y="169" width="3" height="19" fill="#00ff00"/>
<rect x="949" y="179" width="1" height="88" fill="#00ff00"/>
<rect x="948" y="188" width="3" height="78" fill="#00ff00"/>
<rect x="953" y="258" width="1" height="57" fill="#00ff00"/>
<rect x="952" y="263" width="3" height="50" fill="#00ff00"/>
<rect x="957" y="305" width="1" height="24" fill="#00ff00"/>
<rect x="956" y="312" width="3" height="15" fill="#00ff00"/>
<rect x="961" y="284" width="1" height="60" fill="#ff0000"/>
<rect x="960" y="285" width="3" height="50" fill="#ff0000"/>
<rect x="965" y="242" width="1" height="65" fill="#ff0000"/>
<rect x="964" y="273" width="3" height="13" fill="#ff0000"/>
<rect x="969" y="241" width="1" height="34" fill="#ff0000"/>
<rect x="968" y="247" width="3" height="27" fill="#ff0000"/>
<rect x="973" y="215" width="1" height="33" fill="#ff0000"/>
<rect x="972" y="219" width="3" height="28" fill="#ff0000"/>
<rect x="977" y="180" width="1" height="40" fill="#ff0000"/>
<rect x="976" y="191" width="3" height="28" fill="#ff0000"/>
<rect x="981" y="183" width="1" height="20" fill="#00ff00"/>
<rect x="980" y="191" width="3" height="10" fill="#00ff00"/>
<rect x="985" y="180" width="1" height="21" fill="#ff0000"/>
<rect x="984" y="195" width="3" height="5" fill="#ff0000"/>
<rect x="989" y="183" width="1" height="57" fill="#00ff00"/>
<rect x="988" y="195" width="3" height="35" fill="#00ff00"/>
<rect x="993" y="211" width="1" height="24" fill="#ff0000"/>
<rect x="992" y="228" width="3" height="2" fill="#ff0000"/>
<rect x="997" y="215" width="1" height="49" fill="#00ff00"/>
<rect x="996" y="227" width="3" height="29" fill="#00ff00"/>
<rect x="1001" y="250" width="1" height="14" fill="#00ff00"/>
<rect x="1000" y="255" width="3" height="8" fill="#00ff00"/>
<rect x="1005" y="257" width="1" height="12" fill="#ff0000"/>
<rect x="1004" y="258" width="3" height="5" fill="#ff0000"/>
<rect x="1009" y="240" width="1" height="34" fill="#ff0000"/>
<rect x="1008" y="250" width="3" height="9" fill="#ff0000"/>
<rect x="1013" y="245" width="1" height="47" fill="#00ff00"/>
<rect x="1012" y="250" width="3" height="36" fill="#00ff00"/>
<rect x="1017" y="233" width="1" height="57" fill="#ff0000"/>
<rect x="1016" y="240" width="3" height="46" fill="#ff0000"/>
<rect x="1021" y="230" width="1" height="48" fill="#ff0000"/>
<rect x="1020" y="237" width="3" height="22" fill="#ff0000"/>
<rect x="1025" y="220" width="1" height="37" fill="#00ff00"/>
<rect x="1024" y="237" width="3" height="19" fill="#00ff00"/>
<rect x="1029" y="246" width="1" height="13" fill="#ff0000"/>
<rect x="1028" y="247" width="3" height="9" fill="#ff0000"/>
<rect x="1033" y="234" width="1" height="25" fill="#00ff00"/>
<rect x="1032" y="245" width="3" height="5" fill="#00ff00"/>
<rect x="1037" y="218" width="1" height="38" fill="#ff0000"/>
<rect x="1036" y="237" width="3" height="14" fill="#ff0000"/>
<rect x="1041" y="222" width="1" height="28" fill="#ff0000"/>
<rect x="1040" y="228" width="3" height="10" fill="#ff0000"/>
<rect x="1045" y="194" width="1" height="37" fill="#ff0000"/>
<rect x="1044" y="216" width="3" height="12" fill="#ff0000"/>
<rect x="1049" y="178" width="1" height="41" fill="#ff0000"/>
<rect x="1048" y="205" width="3" height="12" fill="#ff0000"/>
<rect x="1053" y="198" width="1" height="10" fill="#00ff00"/>
<rect x="1052" y="205" width="3" height="1" fill="#00ff00"/>
<rect x="1057" y="196" width="1" height="31" fill="#ff0000"/>
<rect x="1056" y="202" width="3" height="9" fill="#ff0000"/>
<rect x="1061" y="178" width="1" height="44" fill="#00ff00"/>
<rect x="1060" y="202" width="3" height="6" fill="#00ff00"/>
<rect x="1065" y="204" width="1" height="24" fill="#ff0000"/>
<rect x="1064" y="206" width="3" height="4" fill="#ff0000"/>
<rect x="1069" y="197" width="1" height="72" fill="#00ff00"/>
<rect x="1068" y="207" width="3" height="44" fill="#00ff00"/>
<rect x="1073" y="244" width="1" height="52" fill="#00ff00"/>
<rect x="1072" y="250" width="3" height="40" fill="#00ff00"/>
<rect x="1077" y="278" width="1" height="13" fill="#ff0000"/>
<rect x="1076" y="279" width="3" height="11" fill="#ff0000"/>
<rect x="1081" y="255" width="1" height="22" fill="#ff0000"/>
<rect x="1080" y="262" width="3" height="10" fill="#ff0000"/>
<rect x="1085" y="215" width="1" height="50" fill="#ff0000"/>
<rect x="1084" y="221" width="3" height="43" fill="#ff0000"/>
<rect x="1089" y="201" width="1" height="24" fill="#ff0000"/>
<rect x="1088" y="209" width="3" height="13" fill="#ff0000"/>
<rect x="1093" y="187" width="1" height="26" fill="#ff0000"/>
<rect x="1092" y="207" width="3" height="1" fill="#ff0000"/>
<rect x="1097" y="204" width="1" height="33" fill="#00ff00"/>
<rect x="1096" y="207" width="3" height="27" fill="#00ff00"/>
<rect x="1101" y="228" width="1" height="7" fill="#ff0000"/>
<rect x="1100" y="229" width="3" height="5" fill="#ff0000"/>
<rect x="1105" y="213" width="1" height="20" fill="#ff0000"/>
<rect x="1104" y="221" width="3" height="4" fill="#ff0000"/>
<rect x="1109" y="206" width="1" height="48" fill="#00ff00"/>
<rect x="1108" y="221" width="3" height="18" fill="#00ff00"/>
<rect x="1113" y="225" width="1" height="29" fill="#ff0000"/>
<rect x="1112" y="231" width="3" height="9" fill="#ff0000"/>
<rect x="1117" y="203" width="1" height="30" fill="#ff0000"/>
<rect x="1116" y="218" width="3" height="14" fill="#ff0000"/>
<rect x="1121" y="208" width="1" height="15" fill="#00ff00"/>
<rect x="1120" y="218" width="3" height="2" fill="#00ff00"/>
<rect x="1125" y="215" width="1" height="9" fill="#00ff00"/>
<rect x="1124" y="219" width="3" height="4" fill="#00ff00"/>
<rect x="1129" y="216" width="1" height="31" fill="#00ff00"/>
<rect x="1128" y="222" width="3" height="9" fill="#00ff00"/>
<rect x="1133" y="200" width="1" height="38" fill="#ff0000"/>
<rect x="1132" y="220" width="3" height="12" fill="#ff0000"/>
<rect x="1137" y="218" width="1" height="51" fill="#00ff00"/>
<rect x="1136" y="220" width="3" height="42" fill="#00ff00"/>
<rect x="1141" y="231" width="1" height="36" fill="#ff0000"/>
<rect x="1140" y="232" width="3" height="30" fill="#ff0000"/>
<rect x="1145" y="215" width="1" height="19" fill="#ff0000"/>
<rect x="1144" y="221" width="3" height="12" fill="#ff0000"/>
<rect x="1149" y="216" width="1" height="7" fill="#ff0000"/>
<rect x="1148" y="220" width="3" height="2" fill="#ff0000"/>
<rect x="1153" y="214" width="1" height="18" fill="#00ff00"/>
<rect x="1152" y="221" width="3" height="8" fill="#00ff00"/>
<rect x="1157" y="224" width="1" height="37" fill="#00ff00"/>
<rect x="1156" y="228" width="3" height="24" fill="#00ff00"/>
<rect x="1161" y="218" width="1" height="46" fill="#ff0000"/>
<rect x="1160" y="236" width="3" height="16" fill="#ff0000"/>
<rect x="1165" y="223" width="1" height="44" fill="#00ff00"/>
<rect x="1164" y="236" width="3" height="31" fill="#00ff00"/>
<rect x="1169" y="262" width="1" height="27" fill="#00ff00"/>
<rect x="1168" y="267" width="3" height="13" fill="#00ff00"/>
<rect x="1173" y="276" width="1" height="8" fill="#ff0000"/>
<rect x="1172" y="279" width="3" height="1" fill="#ff0000"/>
<rect x="1177" y="275" width="1" height="26" fill="#ff0000"/>
<rect x="1176" y="282" width="3" height="4" fill="#ff0000"/>
<rect x="1181" y="271" width="1" height="34" fill="#ff0000"/>
<rect x="1180" y="277" width="3" height="6" fill="#ff0000"/>
<rect x="1185" y="263" width="1" height="24" fill="#00ff00"/>
<rect x="1184" y="277" width="3" height="6" fill="#00ff00"/>
<rect x="1189" y="276" width="1" height="37" fill="#00ff00"/>
<rect x="1188" y="282" width="3" height="27" fill="#00ff00"/>
<rect x="1193" y="261" width="1" height="61" fill="#ff0000"/>
<rect x="1192" y="276" width="3" height="33" fill="#ff0000"/>
<rect x="1197" y="272" width="1" height="8" fill="#00ff00"/>
<rect x="1196" y="276" width="3" height="2" fill="#00ff00"/>
<rect x="1201" y="267" width="1" height="48" fill="#00ff00"/>
<rect x="1200" y="280" width="3" height="27" fill="#00ff00"/>
<rect x="1205" y="297" width="1" height="58" fill="#00ff00"/>
<rect x="1204" y="306" width="3" height="46" fill="#00ff00"/>
<rect x="1209" y="336" width="1" height="40" fill="#00ff00"/>
<rect x="1208" y="351" width="3" height="22" fill="#00ff00"/>
<rect x="1213" y="360" width="1" height="52" fill="#00ff00"/>
<rect x="1212" y="372" width="3" height="39" fill="#00ff00"/>
<rect x="1217" y="333" width="1" height="81" fill="#ff0000"/>
<rect x="1216" y="336" width="3" height="75" fill="#ff0000"/>
<rect x="1221" y="315" width="1" height="24" fill="#ff0000"/>
<rect x="1220" y="320" width="3" height="17" fill="#ff0000"/>
<rect x="1225" y="318" width="1" height="26" fill="#00ff00"/>
<rect x="1224" y="332" width="3" height="10" fill="#00ff00"/>
<rect x="1229" y="332" width="1" height="34" fill="#00ff00"/>
<rect x="1228" y="342" width="3" height="6" fill="#00ff00"/>
<rect x="1233" y="328" width="1" height="28" fill="#ff0000"/>
<rect x="1232" y="338" width="3" height="10" fill="#ff0000"/>
<rect x="1237" y="329" width="1" height="26" fill="#00ff00"/>
<rect x="1236" y="337" width="3" height="2" fill="#00ff00"/>
<rect x="1241" y="327" width="1" height="25" fill="#ff0000"/>
<rect x="1240" y="332" width="3" height="7" fill="#ff0000"/>
<rect x="1245" y="331" width="1" height="6" fill="#00ff00"/>
<rect x="1244" y="333" width="3" height="3" fill="#00ff00"/>
<rect x="1249" y="330" width="1" height="35" fill="#00ff00"/>
<rect x="1248" y="332" width="3" height="27" fill="#00ff00"/>
<rect x="1253" y="351" width="1" height="39" fill="#00ff00"/>
<rect x="1252" y="358" width="3" height="20" fill="#00ff00"/>
<rect x="1257" y="354" width="1" height="29" fill="#ff0000"/>
<rect x="1256" y="360" width="3" height="18" fill="#ff0000"/>
<rect x="1261" y="340" width="1" height="24" fill="#ff0000"/>
<rect x="1260" y="351" width="3" height="10" fill="#ff0000"/>
<rect x="1265" y="344" width="1" height="19" fill="#00ff00"/>
<rect x="1264" y="352" width="3" height="4" fill="#00ff00"/>
<rect x="1269" y="355" width="1" height="8" fill="#00ff00"/>
<rect x="1268" y="355" width="3" height="4" fill="#00ff00"/>
</g>
<path d="M5 96.5h1M6.5 97v2M7 99.5h1M8.5 100v2M9 102.5h1M10.5 103v2M11 105.5h1M12.5 106v2M13 108.5h1M14.5 109v2M15 111.5h1M16.5 112v2M17 114.5h1M18 115.5h1M19.5 116v2M20 118.5h1M21 119.5h1M22 120.5h1M23 121.5h1M24 122.5h1M25 123.5h1M26 124.5h2M28 125.5h1M29 126.5h1M30 127.5h1M31 128.5h1M32 129.5h1M33 130.5h1M34 131.5h2M36 132.5h1M37 133.5h3M40 134.5h4M44 135.5h4M48 136.5h4M52 137.5h4M56 138.5h8M64 139.5h4M68 140.5h4M72 141.5h7M79 142.5h2M81 143.5h3M84 144.5h2M86 145.5h2M88 146.5h1M89 147.5h1M90 148.5h2M92 149.5h1M93 150.5h1M94 151.5h1M95 152.5h1M96 153.5h1M97 154.5h2M99 155.5h2M101 156.5h2M103 157.5h2M105 158.5h2M107 157.5h2M109 156.5h2M111 155.5h2M113 154.5h1M114 153.5h1M115 152.5h1M116 151.5h1M117 150.5h1M118 149.5h2M120 148.5h1M121 147.5h1M122 146.5h1M123 145.5h1M124 144.5h1M125 143.5h2M127 142.5h2M129 141.5h1M130 140.5h2M132 139.5h1M133 138.5h3M136 137.5h3M139 136.5h2M141 135.5h1M142 136.5h2M144 137.5h1M145 138.5h3M148 139.5h2M150 140.5h2M152 141.5h1M153 142.5h2M155 143.5h2M157 144.5h1M158 145.5h1M159 146.5h1M160 147.5h1M161 148.5h1M162 149.5h1M163 150.5h1M164 151.5h1M165 152.5h1M166 153.5h1M167 154.5h1M168 155.5h1M169 156.5h1M170 157.5h2M172 158.5h1M173 159.5h1M174 160.5h2M176 161.5h1M177 162.5h1M178 163.5h2M180 164.5h1M181 165.5h7M188 166.5h4M192 167.5h3M195 168.5h2M197 169.5h3M200 170.5h7M207 171.5h2M209 172.5h3M212 173.5h4M216 174.5h4M220 175.5h8M228 176.5h4M232 177.5h4M236 178.5h11M247 179.5h2M249 180.5h3M252 181.5h4M256 180.5h4M260 179.5h2M262 178.5h2M264 177.5h1M265 176.5h2M267 175.5h2M269 174.5h1M270 173.5h1M271.5 171v2M272 170.5h1M273 169.5h2M275 168.5h2M277 167.5h1M278 166.5h1M279 165.5h1M280 164.5h1M281 163.5h1M282 162.5h2M284 161.5h1M285 160.5h1M286 159.5h1M287 158.5h1M288 157.5h1M289 156.5h1M290 155.5h2M292 154.5h1M293 153.5h1M294 152.5h1M295 151.5h1M296 150.5h1M297 149.5h1M298 148.5h2M300 147.5h1M301 146.5h1M302 145.5h2M304 144.5h1M305 143.5h2M307 142.5h2M309 141.5h2M311 140.5h2M313 139.5h3M316 138.5h3M319 137.5h2M321 136.5h2M323 135.5h2M325 134.5h1M326 133.5h2M328 132.5h1M329 131.5h1M330 130.5h2M332 129.5h1M333 128.5h1M334 127.5h1M335 126.5h1M336 125.5h1M337 124.5h2M339 123.5h2M341 122.5h1M342 121.5h2M344 120.5h1M345 119.5h2M347 118.5h2M349 117.5h3M352 116.5h4M356 115.5h4M360 114.5h4M364 113.5h2M366 112.5h2M368 111.5h1M369 110.5h3M372 109.5h3M375 108.5h2M377 107.5h2M379 106.5h2M381 105.5h3M384 104.5h4M388 103.5h4M392 102.5h4M396 103.5h7M403 104.5h2M405 105.5h3M408 106.5h8M416 107.5h12M428 106.5h4M432 105.5h4M436 104.5h8M444 105.5h4M448 106.5h4M452 107.5h3M455 108.5h2M457 109.5h7M464 110.5h4M468 111.5h8M476 110.5h12M488 111.5h3M491 112.5h2M493 113.5h3M496 114.5h4M500 115.5h3M503 116.5h2M505 117.5h2M507 118.5h2M509 119.5h10M519 118.5h2M521 117.5h1M522 116.5h2M524 115.5h1M525 114.5h2M527 113.5h2M529 112.5h3M532 111.5h3M535 110.5h2M537 109.5h3M540 108.5h4M544 107.5h4M548 106.5h4M552 107.5h4M556 108.5h12M568 107.5h4M572 106.5h8M580 107.5h4M584 108.5h3M587 109.5h2M589 110.5h2M591 111.5h2M593 112.5h1M594 113.5h2M596 114.5h1M597 115.5h2M599 116.5h2M601 117.5h2M603 118.5h2M605 119.5h2M607 120.5h2M609 121.5h2M611 122.5h2M613 123.5h3M616 124.5h4M620 125.5h4M624 126.5h3M627 127.5h2M629 128.5h2M631 129.5h2M633 130.5h2M635 131.5h2M637 132.5h1M638 133.5h1M639 134.5h1M640 135.5h1M641 136.5h1M642 137.5h1M643 138.5h1M644 139.5h1M645 140.5h1M646 141.5h1M647.5 142v2M648 144.5h1M649 145.5h1M650.5 146v2M651 148.5h1M652.5 149v2M653 151.5h1M654.5 152v2M655 154.5h1M656.5 155v2M657 157.5h1M658 158.5h1M659.5 159v2M660 161.5h1M661 162.5h1M662.5 163v2M663 165.5h1M664.5 166v2M665 168.5h1M666 169.5h1M667.5 170v2M668 172.5h1M669 173.5h1M670 174.5h1M671 175.5h1M672 176.5h1M673 177.5h1M674 178.5h2M676 179.5h1M677 180.5h1M678 181.5h2M680 182.5h1M681 183.5h1M682 184.5h2M684 185.5h1M685 186.5h1M686 187.5h2M688 188.5h1M689 189.5h1M690 190.5h2M692 191.5h1M693 192.5h1M694 193.5h1M695 194.5h1M696 195.5h1M697 196.5h1M698 197.5h2M700 198.5h1M701 199.5h1M702 200.5h1M703 201.5h1M704 202.5h1M705 203.5h1M706 204.5h1M707 205.5h1M708 206.5h1M709 207.5h1M710 208.5h2M712 209.5h1M713 210.5h1M714 211.5h2M716 212.5h1M717 213.5h1M718 214.5h2M720 215.5h1M721 216.5h2M723 217.5h2M725 218.5h2M727 219.5h2M729 220.5h2M731 221.5h2M733 222.5h2M735 223.5h2M737 224.5h2M739 225.5h2M741 226.5h2M743 227.5h2M745 228.5h2M747 229.5h2M749 230.5h5M754 231.5h2M756 232.5h1M757 233.5h2M759 234.5h2M761 235.5h2M763 236.5h2M765 237.5h11M776 236.5h4M780 235.5h4M784 234.5h4M788 233.5h4M792 232.5h4M796 231.5h3M799 230.5h2M801 229.5h3M804 228.5h4M808 227.5h3M811 226.5h2M813 225.5h2M815 224.5h2M817 223.5h2M819 222.5h2M821 221.5h1M822 220.5h1M823 219.5h1M824 218.5h1M825 217.5h1M826 216.5h2M828 215.5h1M829 214.5h2M831 213.5h2M833 212.5h2M835 211.5h2M837 210.5h3M840 209.5h3M843 208.5h2M845 207.5h3M848 206.5h4M852 205.5h4M856 206.5h4M860 207.5h3M863 208.5h2M865 209.5h1M866 210.5h2M868 211.5h1M869 212.5h1M870 213.5h1M871 214.5h1M872 215.5h1M873 216.5h1M874 217.5h2M876 218.5h1M877 219.5h1M878 220.5h1M879.5 221v2M880 223.5h1M881 224.5h1M882 225.5h1M883.5 226v2M884 228.5h1M885 229.5h1M886.5 230v2M887.5 232v2M888.5 234v2M889 236.5h1M890.5 237v2M891 239.5h1M892.5 240v2M893 242.5h1M894.5 243v2M895.5 245v2M896.5 247v2M897 249.5h1M898 250.5h1M899 251.5h1M900 252.5h1M901 253.5h1M902 254.5h1M903 255.5h1M904 256.5h1M905 257.5h1M906 258.5h1M907 259.5h1M908 260.5h1M909 261.5h1M910.5 262v2M911 264.5h1M912.5 265v2M913 267.5h2M915 268.5h2M917 269.5h7M924 268.5h4M928 267.5h4M932 266.5h12M944 267.5h2M946 268.5h2M948 269.5h1M949 270.5h1M950 271.5h1M951 272.5h1M952 273.5h1M953 274.5h1M954 275.5h1M955.5 276v2M956 278.5h1M957 279.5h1M958 280.5h2M960 281.5h1M961 282.5h1M962 283.5h2M964 284.5h1M965 285.5h3M968 286.5h7M975 285.5h2M977 284.5h2M979 283.5h2M981 282.5h1M982 281.5h2M984 280.5h1M985 279.5h1M986 278.5h2M988 277.5h1M989 276.5h1M990 275.5h2M992 274.5h1M993 273.5h1M994 272.5h2M996 271.5h1M997 270.5h1M998 269.5h1M999.5 267v2M1000 266.5h1M1001 265.5h1M1002 264.5h1M1003.5 262v2M1004 261.5h1M1005 260.5h1M1006.5 258v2M1007.5 256v2M1008.5 254v2M1009 253.5h1M1010 252.5h1M1011.5 250v2M1012 249.5h1M1013 248.5h1M1014.5 246v2M1015 245.5h1M1016.5 243v2M1017 242.5h2M1019 241.5h2M1021 240.5h1M1022 239.5h2M1024 238.5h1M1025 237.5h2M1027 236.5h2M1029 235.5h1M1030 234.5h1M1031 233.5h1M1032 232.5h1M1033 231.5h3M1036 230.5h4M1040 231.5h3M1043 232.5h2M1045 233.5h2M1047 234.5h2M1049 235.5h1M1050 236.5h2M1052 237.5h1M1053 238.5h3M1056 239.5h4M1060 240.5h4M1064 241.5h4M1068 240.5h4M1072 239.5h4M1076 238.5h4M1080 237.5h3M1083 236.5h2M1085 235.5h3M1088 234.5h8M1096 235.5h4M1100 236.5h4M1104 237.5h12M1116 236.5h4M1120 235.5h4M1124 234.5h4M1128 233.5h3M1131 232.5h2M1133 231.5h3M1136 232.5h4M1140 231.5h4M1144 230.5h4M1148 229.5h15M1163 230.5h2M1165 231.5h1M1166 232.5h2M1168 233.5h1M1169 234.5h2M1171 235.5h2M1173 236.5h1M1174 237.5h2M1176 238.5h1M1177 239.5h2M1179 240.5h2M1181 241.5h2M1183 242.5h2M1185 243.5h2M1187 244.5h2M1189 245.5h11M1200 246.5h2M1202 247.5h1M1203.5 248v2M1204 250.5h1M1205 251.5h1M1206 252.5h1M1207.5 253v2M1208 255.5h1M1209 256.5h1M1210.5 257v2M1211.5 259v2M1212.5 261v2M1213 263.5h1M1214 264.5h1M1215 265.5h1M1216 266.5h1M1217 267.5h1M1218 268.5h2M1220 269.5h1M1221 270.5h1M1222 271.5h1M1223 272.5h1M1224 273.5h1M1225 274.5h1M1226 275.5h2M1228 276.5h1M1229 277.5h1M1230 278.5h1M1231 279.5h1M1232 280.5h1M1233 281.5h1M1234 282.5h1M1235 283.5h1M1236 284.5h1M1237 285.5h1M1238 286.5h1M1239 287.5h1M1240 288.5h1M1241 289.5h1M1242 290.5h2M1244 291.5h1M1245 292.5h1M1246 293.5h1M1247.5 294v2M1248 296.5h1M1249 297.5h1M1250 298.5h1M1251.5 299v2M1252 301.5h1M1253 302.5h1M1254 303.5h2M1256 304.5h1M1257 305.5h1M1258 306.5h1M1259 307.5h1M1260 308.5h1M1261 309.5h1M1262 310.5h1M1263.5 311v2M1264 313.5h1M1265 314.5h1M1266 315.5h1M1267 316.5h1M1268 317.5h1M1269 318.5h1" fill="none" stroke="#0000cd" stroke-width="1" shape-rendering="crispEdges"/>
<path d="M5 130.5h1M6 131.5h1M7.5 132v2M8 134.5h1M9 135.5h1M10.5 136v2M11 138.5h1M12.5 139v2M13 141.5h1M14.5 142v2M15.5 144v2M16.5 146v2M17.5 148v2M18.5 150v2M19.5 152v2M20.5 154v2M21 156.5h1M22 157.5h1M23 158.5h1M24 159.5h1M25 160.5h1M26 161.5h1M27.5 162v2M28 164.5h1M29 165.5h1M30.5 166v2M31 168.5h1M32.5 169v2M33 171.5h1M34 172.5h1M35.5 173v2M36 175.5h1M37 176.5h3M40 177.5h2M42 176.5h1M43 175.5h1M44 174.5h1M45 173.5h1M46.5 171v2M47 170.5h1M48.5 168v2M49 167.5h1M50.5 165v2M51 164.5h1M52.5 162v2M53 161.5h1M54.5 159v2M55.5 157v2M56.5 155v2M57 154.5h1M58.5 152v2M59 151.5h1M60.5 149v2M61 148.5h1M62 147.5h2M64 146.5h1M65 145.5h1M66 144.5h2M68 143.5h1M69 142.5h1M70 141.5h1M71 140.5h1M72 139.5h1M73 138.5h1M74 137.5h1M75.5 135v2M76 134.5h1M77 133.5h7M84 132.5h3M87 133.5h2M89 134.5h3M92 135.5h2M94 136.5h1M95.5 137v2M96 139.5h1M97 140.5h2M99 141.5h2M101 142.5h1M102 143.5h1M103 144.5h1M104 145.5h1M105 146.5h3M108 147.5h3M111 146.5h2M113 145.5h2M115 144.5h2M117 143.5h1M118 142.5h2M120 141.5h1M121 140.5h1M122 139.5h2M124 138.5h1M125 137.5h2M127 136.5h2M129 135.5h2M131 134.5h2M133 133.5h2M135 134.5h2M137 135.5h2M139 136.5h2M141 137.5h1M142 138.5h1M143 139.5h1M144 140.5h1M145 141.5h3M148 142.5h2M150 143.5h1M151.5 144v2M152 146.5h1M153 147.5h1M154 148.5h2M156 149.5h1M157 150.5h1M158.5 151v2M159 153.5h1M160.5 154v2M161 156.5h1M162.5 157v2M163.5 159v2M164.5 161v2M165.5 163v2M166.5 165v2M167.5 167v3M168.5 170v2M169.5 172v2M170.5 174v2M171.5 176v2M172.5 178v2M173.5 180v2M174.5 182v2M175.5 184v2M176.5 186v2M177 188.5h1M178 189.5h1M179.5 190v2M180 192.5h1M181 193.5h1M182 194.5h1M183 195.5h1M184 196.5h1M185 197.5h1M186.5 198v2M187.5 200v2M188.5 202v2M189 204.5h7M196 205.5h2M198 204.5h1M199 203.5h1M200 202.5h1M201 201.5h2M203 200.5h2M205 199.5h3M208 198.5h6M214 197.5h2M216 196.5h1M217 195.5h1M218 194.5h2M220 193.5h1M221 192.5h1M222 191.5h1M223.5 189v2M224 188.5h1M225 187.5h1M226 186.5h1M227 185.5h1M228 184.5h1M229 183.5h1M230.5 181v2M231.5 179v2M232.5 177v2M233 176.5h1M234 175.5h1M235.5 173v2M236 172.5h1M237 171.5h1M238 170.5h1M239.5 168v2M240 167.5h1M241 166.5h1M242 165.5h2M244 164.5h1M245 163.5h5M250 162.5h2M252 161.5h1M253 160.5h2M255 159.5h2M257 158.5h2M259 157.5h2M261 156.5h1M262.5 154v2M263 153.5h1M264.5 151v2M265 150.5h1M266.5 148v2M267.5 146v2M268.5 144v2M269 143.5h1M270.5 141v2M271 140.5h1M272.5 138v2M273 137.5h1M274 136.5h2M276 135.5h1M277 134.5h1M278 133.5h1M279 132.5h1M280 131.5h1M281 130.5h2M283 129.5h2M285 128.5h7M292 127.5h3M295 126.5h2M297 125.5h2M299 124.5h2M301 123.5h1M302 122.5h1M303.5 120v2M304 119.5h1M305 118.5h3M308 117.5h3M311 116.5h2M313 115.5h3M316 116.5h8M324 115.5h10M334 114.5h2M336 113.5h1M337 112.5h3M340 111.5h2M342 110.5h2M344 109.5h1M345 108.5h3M348 107.5h4M352 106.5h4M356 105.5h8M364 104.5h2M366 103.5h2M368 102.5h1M369 101.5h1M370 100.5h2M372 99.5h1M373 98.5h2M375 97.5h2M377 96.5h2M379 95.5h2M381 94.5h2M383 93.5h2M385 92.5h1M386 91.5h2M388 90.5h1M389 89.5h3M392 90.5h3M395 91.5h2M397 92.5h1M398 93.5h1M399.5 94v2M400 96.5h1M401 97.5h1M402 98.5h1M403.5 99v2M404 101.5h1M405 102.5h1M406 103.5h2M408 104.5h1M409 105.5h1M410 106.5h2M412 107.5h1M413 108.5h3M416 109.5h4M420 110.5h8M428 111.5h8M436 112.5h2M438 113.5h2M440 114.5h1M441 115.5h1M442 116.5h1M443 117.5h1M444 118.5h1M445 119.5h1M446 120.5h1M447.5 121v2M448 123.5h1M449 124.5h9M458 123.5h2M460 122.5h1M461 121.5h2M463 120.5h2M465 119.5h2M467 118.5h2M469 117.5h1M470 116.5h2M472 115.5h1M473 114.5h2M475 113.5h2M477 112.5h9M486 113.5h2M488 114.5h1M489 115.5h2M491 116.5h2M493 117.5h7M500 116.5h4M504 115.5h4M508 114.5h2M510 113.5h2M512 112.5h1M513 111.5h3M516 112.5h3M519 111.5h2M521 110.5h3M524 109.5h11M535 108.5h2M537 107.5h2M539 106.5h2M541 105.5h1M542 104.5h1M543 103.5h1M544 102.5h1M545 101.5h1M546 100.5h1M547 99.5h1M548 98.5h1M549 97.5h2M551 96.5h2M553 95.5h2M555 96.5h2M557 97.5h3M560 96.5h4M564 97.5h8M572 98.5h2M574 99.5h2M576 100.5h1M577 101.5h1M578 102.5h1M579 103.5h1M580 104.5h1M581 105.5h1M582 106.5h1M583.5 107v2M584 109.5h1M585 110.5h1M586 111.5h1M587 112.5h1M588 113.5h1M589 114.5h1M590.5 115v2M591.5 117v2M592.5 119v2M593 121.5h1M594 122.5h1M595.5 123v2M596 125.5h1M597 126.5h1M598.5 127v2M599 129.5h1M600.5 130v2M601.5 132v2M602.5 134v2M603.5 136v2M604.5 138v2M605 140.5h1M606 141.5h1M607.5 142v2M608 144.5h1M609 145.5h1M610 146.5h2M612 147.5h1M613 148.5h1M614 149.5h2M616 150.5h1M617 151.5h2M619 152.5h2M621 153.5h1M622 154.5h2M624 155.5h1M625 156.5h1M626 157.5h1M627 158.5h1M628 159.5h1M629 160.5h1M630 161.5h2M632 162.5h1M633 163.5h2M635 164.5h2M637 165.5h1M638 166.5h1M639.5 167v2M640 169.5h1M641 170.5h1M642 171.5h1M643.5 172v2M644 174.5h1M645 175.5h1M646 176.5h1M647.5 177v2M648 179.5h1M649 180.5h1M650.5 181v2M651.5 183v2M652.5 185v2M653 187.5h1M654.5 188v2M655 190.5h1M656.5 191v2M657 193.5h1M658 194.5h1M659.5 195v2M660 197.5h1M661 198.5h1M662 199.5h1M663 200.5h1M664 201.5h1M665 202.5h1M666 203.5h2M668 204.5h1M669 205.5h1M670 206.5h1M671 207.5h1M672 208.5h1M673 209.5h1M674 210.5h1M675.5 211v2M676 213.5h1M677 214.5h1M678 215.5h1M679 216.5h1M680 217.5h1M681 218.5h1M682 219.5h2M684 220.5h1M685 221.5h1M686 222.5h2M688 223.5h1M689 224.5h1M690 225.5h2M692 226.5h1M693 227.5h2M695 228.5h2M697 229.5h2M699 230.5h2M701 231.5h2M703 232.5h2M705 233.5h3M708 234.5h8M716 235.5h7M723 236.5h2M725 237.5h7M732 238.5h8M740 239.5h4M744 240.5h7M751 239.5h2M753 238.5h11M764 239.5h8M772 238.5h4M776 237.5h2M778 236.5h2M780 235.5h1M781 234.5h2M783 233.5h2M785 232.5h1M786 231.5h1M787 230.5h1M788 229.5h1M789 228.5h2M791 227.5h2M793 226.5h1M794 225.5h2M796 224.5h1M797 223.5h2M799 222.5h2M801 221.5h2M803 220.5h2M805 219.5h1M806 218.5h2M808 217.5h1M809 216.5h1M810 215.5h1M811.5 213v2M812 212.5h1M813 211.5h1M814.5 209v2M815.5 207v2M816.5 205v2M817 204.5h1M818.5 202v2M819.5 200v2M820.5 198v2M821 197.5h1M822.5 195v2M823.5 193v2M824.5 191v2M825 190.5h1M826 189.5h1M827.5 187v2M828 186.5h1M829 185.5h2M831 184.5h2M833 183.5h2M835 182.5h2M837 181.5h13M850 182.5h2M852 183.5h1M853 184.5h1M854 185.5h2M856 186.5h1M857 187.5h1M858 188.5h1M859.5 189v2M860 191.5h1M861.5 192v2M862.5 194v2M863.5 196v2M864.5 198v2M865.5 200v3M866.5 203v3M867.5 206v2M868.5 208v3M869.5 211v3M870.5 214v2M871.5 216v3M872.5 219v2M873.5 221v3M874.5 224v3M875.5 227v3M876.5 230v3M877.5 233v4M878.5 237v4M879.5 241v5M880.5 246v4M881.5 250v5M882.5 255v5M883.5 260v4M884.5 264v5M885.5 269v5M886.5 274v5M887.5 279v4M888.5 283v5M889.5 288v5M890.5 293v4M891.5 297v5M892.5 302v4M893.5 306v4M894.5 310v4M895.5 314v4M896.5 318v4M897.5 322v3M898.5 325v2M899.5 327v2M900.5 329v2M901.5 331v3M902.5 334v2M903.5 336v3M904.5 339v2M905.5 341v2M906.5 343v2M907 345.5h1M908.5 346v2M909.5 348v2M910.5 350v2M911.5 352v2M912.5 354v2M913 356.5h5M918 355.5h1M919.5 353v2M920 352.5h1M921.5 350v2M922.5 347v3M923.5 344v3M924.5 341v3M925.5 338v3M926.5 335v3M927.5 332v3M928.5 329v3M929.5 326v3M930.5 322v4M931.5 318v4M932.5 314v4M933.5 310v4M934.5 306v4M935.5 301v5M936.5 297v4M937.5 292v5M938.5 288v4M939.5 283v5M940.5 279v4M941.5 274v5M942.5 269v5M943.5 265v4M944.5 260v5M945.5 256v4M946.5 253v3M947.5 249v4M948.5 246v3M949.5 244v2M950.5 242v2M951 241.5h1M952.5 239v2M953 238.5h5M958 237.5h2M960 236.5h1M961 235.5h1M962 234.5h2M964 233.5h1M965.5 231v2M966.5 229v2M967.5 227v2M968.5 225v2M969 224.5h1M970 223.5h2M972 222.5h1M973 221.5h2M975 220.5h2M977 219.5h1M978 220.5h2M980 221.5h1M981 222.5h1M982 223.5h1M983 224.5h1M984 225.5h1M985 226.5h1M986.5 227v2M987.5 229v2M988.5 231v2M989 233.5h1M990 234.5h1M991.5 235v2M992 237.5h1M993 238.5h1M994.5 239v2M995 241.5h1M996.5 242v2M997 244.5h1M998 245.5h1M999.5 246v2M1000 248.5h1M1001 249.5h5M1006 248.5h1M1007.5 246v2M1008 245.5h1M1009 244.5h1M1010 243.5h2M1012 242.5h1M1013 241.5h1M1014 240.5h2M1016 239.5h1M1017 238.5h2M1019 237.5h2M1021 236.5h6M1027 237.5h2M1029 238.5h1M1030 239.5h1M1031.5 240v2M1032 242.5h1M1033 243.5h2M1035 244.5h2M1037 245.5h1M1038 246.5h2M1040 247.5h1M1041 248.5h3M1044 247.5h3M1047 246.5h2M1049 245.5h1M1050 244.5h1M1051 243.5h1M1052 242.5h1M1053 241.5h1M1054 240.5h1M1055 239.5h1M1056 238.5h1M1057 237.5h1M1058 236.5h1M1059 235.5h1M1060 234.5h1M1061 233.5h1M1062 232.5h2M1064 231.5h1M1065 230.5h2M1067 229.5h2M1069 228.5h1M1070 229.5h2M1072 230.5h1M1073 231.5h1M1074 232.5h2M1076 233.5h1M1077 234.5h3M1080 235.5h3M1083 234.5h2M1085 233.5h1M1086 232.5h2M1088 231.5h1M1089 230.5h2M1091 229.5h2M1093 228.5h7M1100 229.5h4M1104 230.5h2M1106 231.5h2M1108 232.5h1M1109 233.5h2M1111 234.5h2M1113 235.5h3M1116 236.5h4M1120 237.5h3M1123 236.5h2M1125 235.5h1M1126 234.5h1M1127.5 232v2M1128 231.5h1M1129 230.5h1M1130 229.5h1M1131 228.5h1M1132 227.5h1M1133 226.5h7M1140 227.5h4M1144 228.5h4M1148 229.5h4M1152 228.5h3M1155 229.5h2M1157 230.5h3M1160 231.5h3M1163 232.5h2M1165 233.5h1M1166 234.5h1M1167 235.5h1M1168 236.5h1M1169 237.5h1M1170 238.5h1M1171 239.5h1M1172 240.5h1M1173 241.5h1M1174 242.5h1M1175 243.5h1M1176 244.5h1M1177 245.5h1M1178 246.5h1M1179 247.5h1M1180 248.5h1M1181 249.5h1M1182 250.5h1M1183 251.5h1M1184 252.5h1M1185 253.5h1M1186.5 254v2M1187 256.5h1M1188.5 257v2M1189 259.5h3M1192 260.5h2M1194 261.5h2M1196 262.5h1M1197 263.5h1M1198.5 264v2M1199.5 266v2M1200.5 268v2M1201.5 270v2M1202.5 272v2M1203.5 274v2M1204.5 276v2M1205.5 278v3M1206.5 281v2M1207.5 283v3M1208.5 286v2M1209.5 288v3M1210.5 291v3M1211.5 294v3M1212.5 297v3M1213.5 300v2M1214.5 302v2M1215.5 304v2M1216.5 306v2M1217 308.5h1M1218 309.5h1M1219 310.5h1M1220 311.5h1M1221 312.5h1M1222 313.5h1M1223 314.5h1M1224 315.5h1M1225 316.5h1M1226 317.5h1M1227.5 318v2M1228 320.5h1M1229 321.5h1M1230 322.5h1M1231 323.5h1M1232 324.5h1M1233 325.5h1M1234 326.5h1M1235 327.5h1M1236 328.5h1M1237 329.5h1M1238 330.5h1M1239 331.5h1M1240 332.5h1M1241 333.5h2M1243 334.5h2M1245 335.5h1M1246.5 336v2M1247 338.5h1M1248.5 339v2M1249 341.5h1M1250.5 342v2M1251.5 344v2M1252.5 346v2M1253 348.5h1M1254 349.5h1M1255 350.5h1M1256 351.5h1M1257 352.5h6M1263 351.5h2M1265 350.5h1M1266 349.5h2M1268 348.5h1M1269 347.5h1" fill="none" stroke="#ff0000" stroke-width="1" shape-rendering="crispEdges"/>
<path d="M5 197.5h1M6.5 198v2M7.5 200v2M8.5 202v2M9 204.5h2M11 205.5h2M13 206.5h2M15 207.5h2M17 208.5h1M18 207.5h1M19 206.5h1M20 205.5h1M21.5 203v2M22.5 199v4M23.5 195v4M24.5 191v4M25.5 188v3M26.5 185v3M27.5 183v2M28.5 180v3M29.5 177v3M30.5 174v3M31.5 172v2M32.5 169v3M33.5 166v3M34.5 164v2M35.5 161v3M36.5 159v2M37.5 155v4M38.5 150v5M39.5 146v4M40.5 141v5M41.5 138v3M42.5 136v2M43 135.5h1M44.5 133v2M45.5 131v2M46.5 129v2M47.5 127v2M48.5 125v2M49.5 123v2M50.5 121v2M51 120.5h1M52.5 118v2M53 117.5h1M54 116.5h1M55.5 114v2M56 113.5h1M57 112.5h1M58 113.5h1M59 114.5h1M60 115.5h1M61.5 116v2M62.5 118v2M63.5 120v2M64.5 122v2M65.5 124v3M66.5 127v2M67.5 129v3M68.5 132v2M69.5 134v3M70.5 137v2M71.5 139v2M72.5 141v2M73.5 143v2M74 144.5h5M79 145.5h2M81 146.5h2M83 145.5h2M85 144.5h2M87 145.5h2M89 146.5h2M91 147.5h2M93.5 148v2M94.5 150v2M95.5 152v2M96.5 154v2M97.5 156v2M98 157.5h1M99 158.5h2M101 159.5h3M104 160.5h1M105.5 159v2M106.5 157v2M107.5 155v2M108.5 153v2M109.5 150v3M110.5 147v3M111.5 144v3M112.5 141v3M113.5 138v3M114.5 134v4M115.5 131v3M116.5 127v4M117.5 125v2M118.5 123v2M119.5 121v2M120.5 119v2M121 118.5h1M122.5 116v2M123 115.5h1M124.5 113v2M125 112.5h7M132 111.5h1M133.5 111v2M134.5 113v4M135.5 117v3M136.5 120v4M137.5 124v3M138.5 127v2M139.5 129v3M140.5 132v2M141.5 134v4M142.5 138v5M143.5 143v5M144.5 148v5M145.5 153v4M146.5 157v4M147.5 161v3M148.5 164v4M149.5 168v5M150.5 173v6M151.5 179v6M152.5 185v6M153.5 191v5M154.5 196v2M155.5 198v2M156.5 200v2M157.5 202v2M158.5 204v3M159.5 207v3M160.5 210v3M161.5 213v2M162 214.5h3M165.5 214v2M166.5 216v2M167.5 218v2M168.5 220v2M169.5 222v2M170 222.5h2M172 221.5h1M173 220.5h3M176 221.5h2M178 220.5h1M179.5 218v2M180 217.5h1M181.5 215v2M182.5 213v2M183.5 211v2M184.5 209v2M185.5 206v3M186.5 204v2M187.5 202v2M188.5 200v2M189.5 198v2M190.5 196v2M191.5 194v2M192.5 192v2M193 191.5h1M194.5 189v2M195.5 187v2M196.5 185v2M197 184.5h1M198.5 182v2M199 181.5h1M200.5 179v2M201 178.5h1M202 177.5h1M203 176.5h1M204 175.5h1M205 174.5h1M206 175.5h1M207 176.5h1M208 177.5h1M209 178.5h1M210.5 179v2M211.5 181v2M212.5 183v2M213 185.5h2M215 186.5h2M217 187.5h5M222 188.5h2M224 189.5h1M225.5 189v2M226.5 186v3M227.5 183v3M228.5 180v3M229.5 176v4M230.5 172v4M231.5 168v4M232.5 164v4M233.5 160v4M234.5 156v4M235.5 153v3M236.5 149v4M237.5 146v3M238.5 144v2M239.5 141v3M240.5 139v2M241.5 137v2M242.5 135v2M243.5 133v2M244.5 131v2M245 130.5h1M246 131.5h1M247 132.5h1M248 133.5h1M249 134.5h1M250 135.5h2M252 136.5h1M253 137.5h1M254 138.5h1M255.5 139v2M256 141.5h1M257 142.5h1M258 143.5h2M260 144.5h1M261 145.5h1M262 144.5h1M263.5 142v2M264 141.5h1M265.5 139v2M266.5 137v2M267.5 135v2M268.5 133v2M269.5 130v3M270.5 128v2M271.5 126v2M272.5 124v2M273 123.5h2M275 122.5h2M277 121.5h2M279 120.5h2M281 119.5h6M287 118.5h2M289 117.5h3M292 118.5h2M294.5 116v2M295 115.5h1M296.5 113v2M297 112.5h1M298 111.5h1M299 110.5h1M300 109.5h1M301 108.5h2M303 107.5h2M305 106.5h3M308 107.5h2M310 108.5h2M312 109.5h1M313.5 110v2M314.5 112v2M315.5 114v2M316.5 116v2M317 118.5h1M318 119.5h2M320 120.5h1M321 121.5h3M324 120.5h8M332 119.5h1M333.5 118v2M334.5 115v3M335.5 113v2M336.5 110v3M337.5 108v2M338 107.5h2M340 106.5h1M341 105.5h1M342.5 103v2M343 102.5h1M344.5 100v2M345 99.5h1M346.5 97v2M347 96.5h1M348.5 94v2M349 93.5h1M350.5 91v2M351 90.5h1M352.5 88v2M353 87.5h1M354 88.5h1M355 89.5h1M356 90.5h1M357 91.5h2M359 90.5h2M361 89.5h1M362 90.5h1M363 91.5h1M364 92.5h1M365 93.5h2M367 94.5h2M369 95.5h3M372 96.5h3M375 95.5h2M377 94.5h1M378 93.5h2M380 92.5h1M381 91.5h1M382 90.5h2M384 89.5h1M385 88.5h1M386 87.5h1M387 86.5h1M388 85.5h1M389 84.5h4M393.5 84v2M394.5 86v3M395.5 89v2M396.5 91v3M397.5 94v3M398.5 97v3M399.5 100v4M400.5 104v3M401.5 107v3M402.5 110v3M403.5 113v4M404.5 117v3M405.5 120v3M406.5 123v3M407.5 126v4M408.5 130v3M409.5 133v2M410.5 135v2M411.5 137v2M412.5 139v2M413 141.5h1M414 140.5h1M415 139.5h1M416 138.5h1M417.5 136v2M418.5 134v2M419.5 132v2M420.5 130v2M421.5 128v2M422.5 126v2M423.5 123v3M424.5 121v2M425.5 118v3M426.5 116v2M427.5 114v2M428.5 112v2M429.5 109v3M430.5 107v2M431.5 105v2M432.5 103v2M433 102.5h1M434 101.5h2M436 100.5h1M437 99.5h2M439 100.5h2M441.5 101v2M442.5 103v2M443.5 105v2M444.5 107v2M445.5 109v3M446.5 112v2M447.5 114v3M448.5 117v2M449.5 119v3M450.5 122v3M451.5 125v3M452.5 128v3M453.5 131v3M454.5 134v2M455.5 136v2M456.5 138v2M457 140.5h2M459 139.5h2M461 138.5h1M462.5 136v2M463 135.5h1M464.5 133v2M465.5 131v2M466.5 129v2M467.5 126v3M468.5 124v2M469.5 121v3M470.5 118v3M471.5 114v4M472.5 111v3M473.5 108v3M474.5 105v3M475.5 102v3M476.5 99v3M477.5 97v2M478 96.5h1M479 95.5h1M480 94.5h1M481 93.5h2M483 92.5h2M485 91.5h1M486.5 92v2M487 94.5h1M488.5 95v2M489.5 97v2M490.5 99v2M491.5 101v3M492.5 104v2M493.5 106v3M494.5 109v2M495.5 111v2M496.5 113v2M497.5 115v2M498.5 117v2M499 119.5h1M500.5 120v2M501 122.5h1M502.5 123v2M503.5 125v2M504.5 127v2M505 129.5h5M510 128.5h1M511.5 126v2M512 125.5h1M513 124.5h2M515 123.5h2M517 122.5h1M518.5 120v2M519 119.5h1M520.5 117v2M521.5 115v2M522.5 112v3M523.5 110v2M524.5 107v3M525.5 104v3M526.5 102v2M527.5 100v2M528.5 98v2M529 97.5h1M530.5 95v2M531.5 93v2M532.5 91v2M533.5 89v2M534.5 87v2M535.5 85v2M536.5 83v2M537.5 81v2M538 80.5h2M540 79.5h1M541 78.5h1M542 77.5h2M544 76.5h1M545 75.5h1M546 74.5h2M548 73.5h1M549 72.5h1M550.5 73v2M551.5 75v2M552.5 77v2M553.5 79v2M554.5 81v4M555.5 85v3M556.5 88v4M557.5 92v3M558.5 95v3M559.5 98v2M560.5 100v3M561.5 103v3M562.5 106v3M563.5 109v3M564.5 112v3M565.5 115v3M566.5 118v2M567.5 120v3M568.5 123v2M569.5 125v2M570 127.5h2M572 128.5h1M573 129.5h2M575 128.5h2M577 127.5h1M578 128.5h2M580 129.5h1M581 130.5h2M583 131.5h2M585 132.5h1M586 133.5h1M587.5 134v2M588 136.5h1M589.5 137v2M590.5 139v2M591.5 141v2M592.5 143v2M593 145.5h1M594 146.5h1M595 147.5h1M596 148.5h1M597 149.5h2M599 150.5h2M601 151.5h1M602.5 152v2M603.5 154v2M604.5 156v2M605 158.5h1M606.5 159v2M607 161.5h1M608.5 162v2M609 164.5h1M610 165.5h1M611.5 166v2M612 168.5h1M613 169.5h1M614 170.5h2M616 171.5h1M617 172.5h3M620 173.5h2M622 172.5h2M624 171.5h1M625 170.5h2M627 171.5h2M629 172.5h3M632 171.5h4M636 172.5h1M637.5 172v2M638.5 174v2M639.5 176v2M640.5 178v2M641.5 180v2M642.5 182v2M643.5 184v3M644.5 187v2M645.5 189v3M646.5 192v3M647.5 195v3M648.5 198v3M649.5 201v3M650.5 204v3M651.5 207v3M652.5 210v3M653.5 213v3M654.5 216v4M655.5 220v4M656.5 224v4M657.5 228v3M658.5 231v2M659.5 233v2M660.5 235v2M661 237.5h1M662 238.5h2M664 239.5h1M665 240.5h1M666 239.5h1M667 238.5h1M668 237.5h1M669 236.5h3M672 235.5h2M674 234.5h1M675.5 232v2M676 231.5h1M677 230.5h3M680 229.5h2M682 228.5h2M684 227.5h1M685 226.5h3M688 225.5h2M690 224.5h2M692 223.5h1M693 222.5h3M696 223.5h3M699 224.5h2M701.5 225v2M702.5 227v2M703.5 229v2M704.5 231v2M705.5 233v3M706.5 236v2M707.5 238v3M708.5 241v2M709.5 243v2M710 245.5h1M711.5 246v2M712 248.5h1M713 249.5h1M714 250.5h1M715 251.5h1M716 252.5h1M717 253.5h3M720 252.5h2M722 251.5h2M724 250.5h1M725 249.5h1M726.5 247v2M727.5 245v2M728.5 243v2M729 242.5h2M731 241.5h2M733 240.5h1M734 239.5h2M736 238.5h1M737 237.5h3M740 236.5h2M742 235.5h2M744 234.5h1M745 233.5h1M746 232.5h1M747 231.5h1M748 230.5h1M749 229.5h1M750.5 227v2M751.5 225v2M752.5 223v2M753 222.5h1M754 223.5h2M756 224.5h1M757 225.5h1M758.5 226v2M759.5 228v2M760.5 230v2M761.5 232v2M762.5 234v2M763.5 236v2M764.5 238v2M765.5 240v2M766.5 242v2M767.5 244v2M768.5 246v2M769 248.5h1M770.5 249v2M771 251.5h1M772.5 252v2M773 254.5h1M774 253.5h1M775.5 251v2M776 250.5h1M777.5 248v2M778.5 245v3M779.5 242v3M780.5 239v3M781.5 236v3M782.5 232v4M783.5 228v4M784.5 224v4M785.5 221v3M786.5 218v3M787.5 215v3M788.5 212v3M789.5 209v3M790.5 207v2M791.5 205v2M792.5 203v2M793 202.5h1M794 201.5h1M795.5 199v2M796 198.5h1M797 197.5h2M799 196.5h2M801 195.5h2M803 194.5h2M805 193.5h1M806 192.5h1M807.5 190v2M808 189.5h1M809 188.5h1M810 187.5h1M811.5 185v2M812 184.5h1M813 183.5h1M814 182.5h1M815.5 180v2M816 179.5h1M817 178.5h1M818 177.5h1M819.5 175v2M820 174.5h1M821 173.5h1M822.5 171v2M823 170.5h1M824.5 168v2M825 167.5h3M828 166.5h2M830 167.5h1M831 168.5h1M832 169.5h1M833 170.5h1M834 171.5h1M835 172.5h1M836 173.5h1M837 174.5h1M838 175.5h1M839 176.5h1M840 177.5h1M841.5 178v2M842.5 180v2M843.5 182v2M844.5 184v2M845 186.5h1M846.5 187v2M847 189.5h1M848.5 190v2M849.5 192v2M850.5 194v2M851.5 196v2M852.5 198v2M853.5 200v3M854.5 203v2M855.5 205v3M856.5 208v2M857.5 210v3M858.5 213v4M859.5 217v3M860.5 220v4M861.5 224v4M862.5 228v5M863.5 233v4M864.5 237v5M865.5 242v6M866.5 248v6M867.5 254v6M868.5 260v6M869.5 266v5M870.5 271v4M871.5 275v4M872.5 279v4M873.5 283v5M874.5 288v5M875.5 293v5M876.5 298v5M877.5 303v6M878.5 309v8M879.5 317v7M880.5 324v8M881.5 332v7M882.5 339v6M883.5 345v7M884.5 352v6M885.5 358v7M886.5 365v7M887.5 372v8M888.5 380v7M889.5 387v7M890.5 394v6M891.5 400v6M892.5 406v6M893.5 412v4M894.5 416v4M895.5 420v3M896.5 423v4M897.5 426v3M898.5 421v5M899.5 417v4M900.5 412v5M901.5 407v5M902.5 402v5M903.5 398v4M904.5 393v5M905.5 387v6M906.5 380v7M907.5 373v7M908.5 366v7M909.5 360v6M910.5 356v4M911.5 352v4M912.5 348v4M913.5 343v5M914.5 336v7M915.5 328v8M916.5 321v7M917.5 315v6M918.5 310v5M919.5 304v6M920.5 299v5M921.5 292v7M922.5 284v8M923.5 275v9M924.5 267v8M925.5 258v9M926.5 249v9M927.5 241v8M928.5 232v9M929.5 222v10M930.5 210v12M931.5 198v12M932.5 186v12M933.5 178v8M934.5 173v5M935.5 169v4M936.5 164v5M937.5 160v4M938.5 158v2M939.5 155v3M940.5 153v2M941.5 151v2M942.5 152v2M943.5 154v2M944.5 156v2M945.5 158v4M946.5 162v6M947.5 168v6M948.5 174v6M949.5 180v8M950.5 188v9M951.5 197v10M952.5 207v9M953.5 216v9M954.5 225v8M955.5 233v8M956.5 241v8M957.5 249v7M958.5 256v6M959.5 262v6M960.5 268v6M961.5 274v5M962.5 279v4M963.5 283v4M964.5 287v4M965.5 291v3M966 292.5h1M967 291.5h1M968 290.5h1M969.5 287v3M970.5 282v5M971.5 278v4M972.5 273v5M973.5 267v6M974.5 260v7M975.5 254v6M976.5 247v7M977.5 241v6M978.5 237v4M979.5 233v4M980.5 229v4M981.5 224v5M982.5 220v4M983.5 216v4M984.5 212v4M985.5 210v2M986 209.5h2M988 208.5h1M989 207.5h2M991 208.5h2M993.5 209v2M994.5 211v3M995.5 214v4M996.5 218v3M997.5 221v3M998.5 224v3M999.5 227v3M1000.5 230v3M1001.5 233v3M1002.5 236v3M1003.5 239v4M1004.5 243v3M1005.5 246v2M1006 248.5h1M1007 249.5h1M1008 250.5h1M1009.5 251v2M1010.5 253v3M1011.5 256v2M1012.5 258v3M1013.5 261v2M1014 261.5h2M1016 260.5h1M1017 259.5h1M1018 258.5h1M1019.5 256v2M1020 255.5h1M1021 254.5h7M1028 253.5h2M1030.5 251v2M1031.5 249v2M1032.5 247v2M1033 246.5h3M1036 245.5h4M1040 244.5h1M1041.5 243v2M1042.5 241v2M1043.5 239v2M1044.5 237v2M1045.5 235v2M1046.5 233v2M1047.5 231v2M1048.5 229v2M1049.5 226v3M1050.5 224v2M1051.5 222v2M1052.5 220v2M1053.5 218v2M1054.5 216v2M1055.5 214v2M1056.5 212v2M1057 211.5h1M1058 210.5h1M1059 209.5h1M1060 208.5h1M1061 207.5h2M1063 206.5h2M1065.5 205v2M1066.5 207v2M1067.5 209v3M1068.5 212v2M1069.5 214v4M1070.5 218v4M1071.5 222v4M1072.5 226v4M1073.5 230v4M1074.5 234v4M1075.5 238v4M1076.5 242v4M1077.5 246v3M1078.5 249v2M1079.5 251v3M1080.5 254v2M1081.5 256v2M1082 258.5h2M1084 259.5h1M1085.5 259v2M1086.5 257v2M1087.5 255v2M1088.5 253v2M1089.5 250v3M1090.5 246v4M1091.5 242v4M1092.5 238v4M1093.5 234v4M1094.5 232v2M1095.5 230v2M1096.5 228v2M1097 227.5h1M1098.5 225v2M1099.5 223v2M1100.5 221v2M1101 220.5h5M1106.5 221v2M1107 223.5h1M1108.5 224v2M1109 226.5h1M1110 227.5h1M1111.5 228v2M1112 230.5h1M1113 231.5h1M1114 230.5h2M1116 229.5h1M1117 228.5h2M1119 227.5h2M1121 226.5h7M1128 225.5h3M1131 224.5h2M1133.5 223v2M1134.5 225v2M1135.5 227v2M1136.5 229v2M1137 231.5h1M1138 232.5h2M1140 233.5h1M1141 234.5h3M1144 233.5h3M1147 232.5h2M1149 231.5h2M1151 232.5h2M1153 233.5h2M1155 232.5h2M1157 231.5h3M1160 232.5h1M1161.5 232v2M1162.5 234v2M1163.5 236v2M1164.5 238v2M1165.5 240v3M1166.5 243v3M1167.5 246v3M1168.5 249v3M1169.5 252v3M1170.5 255v2M1171.5 257v3M1172.5 260v2M1173.5 262v2M1174.5 264v2M1175 266.5h1M1176.5 267v2M1177.5 269v2M1178.5 271v2M1179.5 273v2M1180.5 275v2M1181 277.5h1M1182 278.5h2M1184 279.5h1M1185 280.5h1M1186.5 281v2M1187 283.5h1M1188.5 284v2M1189 286.5h3M1192 285.5h6M1198.5 286v2M1199 288.5h1M1200.5 289v2M1201.5 291v2M1202.5 293v3M1203.5 296v4M1204.5 300v3M1205.5 303v3M1206.5 306v3M1207.5 309v4M1208.5 313v3M1209.5 316v5M1210.5 321v7M1211.5 328v6M1212.5 334v7M1213.5 341v5M1214.5 346v3M1215.5 349v3M1216.5 352v3M1217.5 355v2M1218 357.5h2M1220 358.5h1M1221 359.5h2M1223 358.5h2M1225 357.5h1M1226 356.5h1M1227.5 354v2M1228 353.5h1M1229.5 351v2M1230.5 347v4M1231.5 343v4M1232.5 339v4M1233.5 337v2M1234 337.5h4M1238 338.5h2M1240 339.5h1M1241 340.5h3M1244 339.5h3M1247 340.5h2M1249.5 341v2M1250.5 343v2M1251.5 345v2M1252.5 347v2M1253 349.5h1M1254 350.5h1M1255 351.5h1M1256 352.5h1M1257 353.5h1M1258 354.5h1M1259 355.5h1M1260 356.5h1M1261 357.5h1M1262 358.5h1M1263 359.5h1M1264 360.5h1M1265 361.5h5" fill="none" stroke="#ffa500" stroke-width="1" shape-rendering="crispEdges"/>
<g shape-rendering="crispEdges">
<rect x="4" y="27" width="1594" height="1" fill="#000"/>
<rect x="4" y="533" width="1594" height="1" fill="#000"/>
<rect x="4" y="27" width="1" height="507" fill="#000"/>
<rect x="1597" y="27" width="1" height="507" fill="#000"/>
<rect x="4" y="535" width="1594" height="1" fill="#000"/>
<rect x="4" y="627" width="1594" height="1" fill="#000"/>
<rect x="4" y="535" width="1" height="93" fill="#000"/>
<rect x="1597" y="535" width="1" height="93" fill="#000"/>
<rect x="4" y="629" width="1594" height="1" fill="#000"/>
<rect x="4" y="721" width="1594" height="1" fill="#000"/>
<rect x="4" y="629" width="1" height="93" fill="#000"/>
<rect x="1597" y="629" width="1" height="93" fill="#000"/>
<rect x="5" y="176" width="1593" height="2" fill="#ff0000"/>
<rect x="4" y="174" width="6" height="6" fill="#ff0000"/><rect x="6" y="176" width="2" height="2" fill="#fff"/>
<rect x="1591" y="174" width="6" height="6" fill="#ff0000"/><rect x="1593" y="176" width="2" height="2" fill="#fff"/>
<rect x="1599" y="171" width="39" height="11" fill="#ff0000"/>
<rect x="5" y="243" width="1593" height="2" fill="#ff0000"/>
<rect x="1599" y="238" width="39" height="11" fill="#ff0000"/>
<rect x="5" y="301" width="1593" height="2" fill="#00ff00"/>
<rect x="4" y="299" width="6" height="6" fill="#00ff00"/><rect x="6" y="301" width="2" height="2" fill="#fff"/>
<rect x="1591" y="299" width="6" height="6" fill="#00ff00"/><rect x="1593" y="301" width="2" height="2" fill="#fff"/>
<rect x="1599" y="296" width="39" height="11" fill="#00ff00"/>
<rect x="5" y="376" width="1593" height="2" fill="#0000ff"/>
<rect x="4" y="374" width="6" height="6" fill="#0000ff"/><rect x="6" y="376" width="2" height="2" fill="#fff"/>
<rect x="1591" y="374" width="6" height="6" fill="#0000ff"/><rect x="1593" y="376" width="2" height="2" fill="#fff"/>
<rect x="1599" y="371" width="39" height="11" fill="#0000ff"/>
<rect x="5" y="454" width="1593" height="2" fill="#0000ff"/>
<rect x="4" y="452" width="6" height="6" fill="#0000ff"/><rect x="6" y="454" width="2" height="2" fill="#fff"/>
<rect x="1591" y="452" width="6" height="6" fill="#0000ff"/><rect x="1593" y="454" width="2" height="2" fill="#fff"/>
<rect x="1599" y="449" width="39" height="11" fill="#0000ff"/>
<rect x="1599" y="353" width="39" height="11" fill="#000"/>
</g>
<text transform="translate(1602.6 179.6) scale(0.9530 1)" font-size="9.9" fill="#fff" text-anchor="start">0.98008</text>
<text transform="translate(1602.6 246.6) scale(0.9530 1)" font-size="9.9" fill="#fff" text-anchor="start">0.96803</text>
<text transform="translate(1602.6 304.6) scale(0.9530 1)" font-size="9.9" fill="#fff" text-anchor="start">0.95758</text>
<text transform="translate(1602.6 361.6) scale(0.9530 1)" font-size="9.9" fill="#fff" text-anchor="start">0.94745</text>
<text transform="translate(1602.6 379.6) scale(0.9530 1)" font-size="9.9" fill="#fff" text-anchor="start">0.94408</text>
<text transform="translate(1602.6 457.6) scale(0.9530 1)" font-size="9.9" fill="#fff" text-anchor="start">0.93004</text>
<path d="M1273 28 L1281 28 L1277 33 Z" fill="#c0c0c0"/>
<path d="M8 35 L15 35 L11.5 38.5 Z" fill="#000"/>
<text transform="translate(20 38.9) scale(1.0014 1)" font-size="9.9" fill="#000" text-anchor="start">USDCHF,Daily</text>
<text transform="translate(91 38.9) scale(0.9308 1)" font-size="9.9" fill="#000" text-anchor="start">0.94796 0.94806 0.94667 0.94745</text>
<g shape-rendering="crispEdges">
<line x1="6" y1="563.5" x2="1597" y2="563.5" stroke="#c0c0c0" stroke-width="1" stroke-dasharray="3,3"/>
<line x1="6" y1="599.5" x2="1597" y2="599.5" stroke="#c0c0c0" stroke-width="1" stroke-dasharray="3,3"/>
</g>
<text transform="translate(9 547.7) scale(0.9394 1)" font-size="9.9" fill="#000" text-anchor="start">RSI(14) 41.8185</text>
<text transform="translate(1600.9 545.6) scale(0.9394 1)" font-size="9.9" fill="#000" text-anchor="start">100</text>
<text transform="translate(1600.0 566.6) scale(0.9394 1)" font-size="9.9" fill="#000" text-anchor="start">70</text>
<text transform="translate(1600.0 602.4) scale(0.9394 1)" font-size="9.9" fill="#000" text-anchor="start">30</text>
<text transform="translate(1600.0 623.5) scale(0.9394 1)" font-size="9.9" fill="#000" text-anchor="start">0</text>
<path d="M5 608.5h1M6.5 606v2M7.5 604v2M8.5 602v2M9 601.5h3M12 600.5h4M16 601.5h5M21.5 599v3M22.5 595v4M23.5 590v5M24.5 586v4M25.5 583v3M26 583.5h6M32 582.5h3M35 583.5h2M37.5 583v2M38.5 581v2M39.5 579v2M40.5 577v2M41.5 575v2M42 575.5h2M44 576.5h3M47 575.5h2M49 574.5h2M51 575.5h2M53 576.5h1M54 577.5h1M55.5 578v2M56 580.5h1M57 581.5h5M62 582.5h1M63.5 583v2M64 585.5h1M65 586.5h3M68 587.5h4M72 586.5h2M74.5 584v2M75.5 582v2M76.5 580v2M77 579.5h1M78 580.5h1M79 581.5h1M80 582.5h1M81 583.5h5M86.5 584v2M87 586.5h1M88.5 587v2M89 589.5h3M92 588.5h4M96 589.5h2M98.5 587v2M99 586.5h1M100.5 584v2M101 583.5h5M106.5 581v2M107.5 579v2M108.5 577v2M109 576.5h1M110 575.5h1M111 574.5h1M112 573.5h1M113 572.5h3M116 571.5h2M118 572.5h1M119.5 573v2M120 575.5h1M121 576.5h3M124 577.5h4M128 578.5h2M130 577.5h1M131.5 575v2M132 574.5h1M133.5 573v3M134.5 576v4M135.5 580v4M136.5 584v4M137.5 588v2M138 589.5h2M140 588.5h1M141.5 588v2M142.5 590v2M143.5 592v2M144.5 594v2M145.5 596v2M146.5 594v2M147.5 592v2M148.5 590v2M149 589.5h1M150 590.5h1M151.5 591v2M152 593.5h1M153 594.5h1M154 593.5h1M155.5 591v2M156 590.5h1M157 589.5h1M158 590.5h2M160 591.5h1M161 592.5h3M164 591.5h3M167 592.5h2M169 593.5h1M170.5 591v2M171 590.5h1M172.5 588v2M173 587.5h3M176 588.5h2M178 587.5h2M180 586.5h1M181 585.5h1M182 584.5h1M183 583.5h1M184 582.5h1M185 581.5h2M187 582.5h2M189 583.5h1M190 582.5h2M192 581.5h1M193 580.5h2M195 581.5h2M197 582.5h1M198 581.5h2M200 580.5h1M201 579.5h3M204 578.5h1M205.5 578v2M206.5 580v2M207.5 582v2M208.5 584v2M209 586.5h3M212 587.5h2M214 586.5h1M215.5 584v2M216 583.5h1M217 582.5h1M218 581.5h2M220 580.5h1M221 579.5h3M224 580.5h2M226 579.5h1M227.5 577v2M228 576.5h1M229 575.5h1M230 574.5h1M231 573.5h1M232 572.5h1M233 571.5h9M242 572.5h1M243.5 573v2M244 575.5h1M245 576.5h1M246.5 577v2M247 579.5h1M248.5 580v2M249 582.5h1M250 581.5h1M251.5 579v2M252 578.5h1M253 577.5h7M260 576.5h2M262 575.5h2M264 574.5h1M265 573.5h6M271 572.5h2M273 571.5h1M274.5 572v2M275 574.5h1M276.5 575v2M277 577.5h3M280 576.5h3M283 575.5h2M285 574.5h3M288 573.5h6M294 572.5h2M296 571.5h1M297 570.5h1M298 571.5h1M299 572.5h1M300 573.5h1M301 574.5h6M307 575.5h2M309 576.5h1M310 577.5h1M311 578.5h1M312 579.5h1M313 580.5h1M314 581.5h2M316 582.5h1M317 583.5h1M318.5 581v2M319 580.5h1M320.5 578v2M321 577.5h2M323 576.5h2M325 575.5h2M327 576.5h2M329 577.5h2M331 578.5h2M333.5 578v2M334.5 576v2M335.5 574v2M336.5 572v2M337.5 570v2M338.5 571v2M339 573.5h1M340.5 574v2M341 576.5h1M342 575.5h1M343 574.5h1M344 573.5h1M345 572.5h5M350 573.5h2M352 574.5h1M353 575.5h3M356 576.5h7M363 577.5h2M365 578.5h2M367 577.5h2M369 576.5h6M375 575.5h2M377 574.5h3M380 573.5h4M384 574.5h3M387 573.5h2M389 572.5h1M390 573.5h1M391.5 574v2M392 576.5h1M393.5 577v2M394.5 579v4M395.5 583v3M396.5 586v4M397.5 590v2M398 591.5h1M399 592.5h2M401 593.5h5M406 592.5h2M408 591.5h1M409 590.5h1M410 589.5h1M411.5 587v2M412 586.5h1M413 585.5h1M414 584.5h2M416 583.5h1M417 582.5h2M419 581.5h2M421 580.5h1M422 579.5h2M424 578.5h1M425 577.5h3M428 576.5h3M431 575.5h2M433 574.5h1M434 575.5h1M435.5 576v2M436 578.5h1M437 579.5h1M438 580.5h1M439.5 581v2M440 583.5h1M441 584.5h1M442.5 585v2M443 587.5h1M444.5 588v2M445 590.5h3M448 591.5h4M452 590.5h4M456 589.5h1M457.5 588v2M458.5 586v2M459.5 583v3M460.5 581v2M461.5 579v2M462 579.5h4M466 578.5h1M467 577.5h1M468 576.5h1M469 575.5h1M470 574.5h2M472 573.5h1M473 572.5h3M476 571.5h2M478 572.5h1M479.5 573v2M480 575.5h1M481 576.5h2M483 577.5h2M485.5 578v2M486.5 580v2M487.5 582v2M488.5 584v2M489 586.5h3M492 587.5h3M495 586.5h2M497 585.5h5M502 586.5h2M504 587.5h1M505 588.5h1M506 587.5h1M507.5 585v2M508 584.5h1M509 583.5h1M510 582.5h1M511 581.5h1M512 580.5h1M513 579.5h2M515 580.5h2M517 581.5h1M518.5 579v2M519.5 577v2M520.5 575v2M521 574.5h2M523 573.5h2M525 572.5h3M528 573.5h2M530 572.5h2M532 571.5h1M533 570.5h7M540 571.5h3M543 570.5h2M545 569.5h4M549.5 569v2M550.5 571v4M551.5 575v3M552.5 578v4M553.5 582v3M554.5 585v2M555.5 587v2M556.5 589v2M557.5 591v2M558 591.5h1M559 590.5h1M560 589.5h1M561 588.5h3M564 589.5h2M566 588.5h1M567.5 586v2M568 585.5h1M569 584.5h3M572 585.5h2M574 586.5h2M576 587.5h1M577 588.5h1M578 589.5h2M580 590.5h1M581 591.5h3M584 590.5h4M588 589.5h2M590 590.5h1M591.5 591v2M592 593.5h1M593 594.5h1M594 593.5h2M596 592.5h1M597 591.5h5M602.5 592v2M603 594.5h1M604.5 595v2M605 597.5h1M606 596.5h1M607 595.5h1M608 594.5h1M609 593.5h1M610 594.5h2M612 595.5h1M613 596.5h1M614.5 594v2M615 593.5h1M616.5 591v2M617 590.5h2M619 589.5h2M621 588.5h3M624 589.5h3M627 590.5h2M629 591.5h3M632 592.5h2M634 591.5h2M636 590.5h1M637 589.5h1M638.5 590v2M639 592.5h1M640.5 593v2M641 595.5h1M642 596.5h2M644 597.5h1M645 598.5h1M646 599.5h1M647 600.5h1M648 601.5h1M649 602.5h7M656 603.5h2M658 602.5h1M659 601.5h1M660 600.5h1M661 599.5h1M662 598.5h2M664 597.5h1M665 596.5h1M666 595.5h1M667 594.5h1M668 593.5h1M669 592.5h1M670 593.5h1M671 594.5h1M672 595.5h1M673 596.5h1M674.5 594v2M675 593.5h1M676.5 591v2M677 590.5h1M678 591.5h2M680 592.5h1M681 593.5h1M682.5 591v2M683 590.5h1M684.5 588v2M685 587.5h7M692 588.5h3M695 589.5h2M697 590.5h1M698 591.5h2M700 592.5h1M701 593.5h1M702 594.5h1M703 595.5h1M704 596.5h1M705 597.5h3M708 598.5h1M709.5 597v2M710.5 595v2M711.5 593v2M712.5 591v2M713 590.5h5M718 589.5h2M720 588.5h1M721 587.5h2M723 588.5h2M725 589.5h1M726 588.5h1M727 587.5h1M728 586.5h1M729 585.5h3M732 586.5h2M734 585.5h2M736 584.5h1M737 583.5h6M743 584.5h2M745.5 584v2M746.5 582v2M747.5 580v2M748.5 578v2M749 577.5h2M751 576.5h2M753.5 575v2M754.5 577v3M755.5 580v2M756.5 582v3M757.5 585v2M758 587.5h1M759.5 588v2M760 590.5h1M761 591.5h2M763 592.5h2M765 593.5h1M766 592.5h1M767.5 590v2M768 589.5h1M769 588.5h1M770.5 586v2M771 585.5h1M772.5 583v2M773 582.5h1M774 581.5h1M775.5 579v2M776 578.5h1M777 577.5h2M779 576.5h2M781 575.5h3M784 574.5h3M787 573.5h2M789 572.5h7M796 573.5h4M800 574.5h2M802 573.5h2M804 572.5h1M805 571.5h1M806 570.5h1M807 569.5h1M808 568.5h1M809 567.5h11M820 568.5h2M822 567.5h2M824 566.5h1M825 565.5h1M826 566.5h2M828 567.5h1M829.5 568v2M830.5 570v2M831.5 572v2M832.5 574v2M833.5 576v2M834 577.5h1M835 578.5h2M837 579.5h6M843 580.5h2M845 581.5h2M847 580.5h2M849.5 579v2M850.5 581v3M851.5 584v4M852.5 588v3M853.5 591v2M854 592.5h1M855 593.5h2M857 594.5h1M858 595.5h1M859 596.5h1M860 597.5h1M861 598.5h1M862 599.5h1M863.5 600v2M864 602.5h1M865 603.5h1M866 604.5h2M868 605.5h1M869 606.5h5M874 607.5h2M876 608.5h1M877 609.5h1M878 610.5h1M879.5 611v2M880 613.5h1M881 614.5h6M887 615.5h2M889 616.5h1M890.5 614v2M891 613.5h1M892.5 611v2M893.5 609v2M894.5 607v2M895.5 605v2M896.5 603v2M897.5 600v3M898.5 596v4M899.5 592v4M900.5 588v4M901.5 585v3M902 585.5h6M908 584.5h2M910.5 585v2M911 587.5h1M912.5 588v2M913.5 589v2M914.5 585v4M915.5 582v3M916.5 578v4M917.5 576v2M918 575.5h1M919 574.5h1M920 573.5h1M921 572.5h1M922 571.5h1M923.5 569v2M924 568.5h1M925 567.5h3M928 566.5h4M932 565.5h2M934 566.5h1M935.5 567v2M936 569.5h1M937 570.5h3M940 571.5h2M942 572.5h2M944 573.5h1M945.5 574v2M946.5 576v2M947.5 578v2M948.5 580v2M949.5 582v2M950 584.5h1M951 585.5h1M952 586.5h1M953 587.5h2M955 588.5h2M957 589.5h1M958 588.5h1M959.5 586v2M960 585.5h1M961 584.5h2M963 583.5h2M965 582.5h1M966 581.5h2M968 580.5h1M969 579.5h2M971 578.5h2M973 577.5h1M974 576.5h2M976 575.5h1M977 574.5h3M980 575.5h6M986 576.5h1M987 577.5h1M988 578.5h1M989 579.5h5M994 580.5h1M995 581.5h1M996 582.5h1M997 583.5h3M1000 584.5h4M1004 583.5h4M1008 582.5h2M1010 583.5h1M1011.5 584v2M1012 586.5h1M1013 587.5h1M1014.5 585v2M1015.5 583v2M1016.5 581v2M1017 580.5h3M1020 579.5h2M1022 580.5h2M1024 581.5h1M1025 582.5h3M1028 581.5h7M1035 580.5h2M1037 579.5h3M1040 578.5h3M1043 577.5h2M1045 576.5h2M1047 575.5h2M1049 574.5h11M1060 575.5h5M1065.5 575v2M1066.5 577v2M1067.5 579v3M1068.5 582v2M1069.5 584v2M1070.5 586v2M1071 588.5h1M1072.5 589v2M1073 591.5h2M1075 590.5h2M1077 589.5h1M1078 588.5h1M1079 587.5h1M1080 586.5h1M1081 585.5h1M1082.5 583v2M1083.5 581v2M1084.5 579v2M1085 578.5h2M1087 577.5h2M1089 576.5h3M1092 575.5h2M1094.5 576v2M1095 578.5h1M1096.5 579v2M1097 581.5h3M1100 580.5h3M1103 579.5h2M1105 578.5h1M1106 579.5h1M1107 580.5h1M1108 581.5h1M1109 582.5h2M1111 581.5h2M1113 580.5h2M1115 579.5h2M1117 578.5h7M1124 579.5h3M1127 580.5h2M1129 581.5h1M1130 580.5h2M1132 579.5h1M1133.5 578v2M1134.5 580v2M1135.5 582v2M1136.5 584v2M1137.5 586v2M1138.5 585v2M1139 584.5h1M1140.5 582v2M1141 581.5h2M1143 580.5h2M1145 579.5h3M1148 578.5h2M1150 579.5h2M1152 580.5h1M1153 581.5h1M1154 582.5h1M1155 583.5h1M1156 584.5h1M1157 585.5h1M1158 584.5h2M1160 583.5h1M1161 582.5h1M1162.5 583v2M1163 585.5h1M1164.5 586v2M1165 588.5h2M1167 589.5h2M1169 590.5h11M1180 589.5h4M1184 590.5h2M1186 591.5h1M1187.5 592v2M1188 594.5h1M1189.5 594v2M1190.5 592v2M1191.5 590v2M1192.5 588v2M1193.5 586v2M1194 586.5h4M1198.5 587v2M1199 589.5h1M1200.5 590v2M1201 592.5h1M1202.5 593v2M1203 595.5h1M1204.5 596v2M1205 598.5h2M1207 599.5h2M1209 600.5h1M1210 601.5h1M1211 602.5h1M1212 603.5h1M1213.5 602v3M1214.5 598v4M1215.5 594v4M1216.5 590v4M1217.5 588v2M1218 588.5h1M1219 587.5h2M1221 586.5h2M1223 587.5h2M1225 588.5h3M1228 589.5h3M1231 588.5h2M1233 587.5h7M1240 586.5h4M1244 587.5h2M1246 588.5h2M1248 589.5h1M1249 590.5h1M1250 591.5h2M1252 592.5h1M1253 593.5h1M1254 592.5h1M1255 591.5h1M1256 590.5h1M1257 589.5h2M1259 588.5h2M1261 587.5h3M1264 588.5h6" fill="none" stroke="#1e90ff" stroke-width="1" shape-rendering="crispEdges"/>
<g shape-rendering="crispEdges">
<rect x="5" y="661" width="1" height="37" fill="#c0c0c0"/>
<rect x="9" y="661" width="1" height="38" fill="#c0c0c0"/>
<rect x="13" y="661" width="1" height="38" fill="#c0c0c0"/>
<rect x="17" y="661" width="1" height="38" fill="#c0c0c0"/>
<rect x="21" y="661" width="1" height="38" fill="#c0c0c0"/>
<rect x="25" y="661" width="1" height="32" fill="#c0c0c0"/>
<rect x="29" y="661" width="1" height="28" fill="#c0c0c0"/>
<rect x="33" y="661" width="1" height="24" fill="#c0c0c0"/>
<rect x="37" y="661" width="1" height="22" fill="#c0c0c0"/>
<rect x="41" y="661" width="1" height="16" fill="#c0c0c0"/>
<rect x="45" y="661" width="1" height="12" fill="#c0c0c0"/>
<rect x="49" y="661" width="1" height="8" fill="#c0c0c0"/>
<rect x="53" y="661" width="1" height="5" fill="#c0c0c0"/>
<rect x="57" y="661" width="1" height="4" fill="#c0c0c0"/>
<rect x="61" y="661" width="1" height="4" fill="#c0c0c0"/>
<rect x="65" y="661" width="1" height="5" fill="#c0c0c0"/>
<rect x="69" y="661" width="1" height="6" fill="#c0c0c0"/>
<rect x="73" y="661" width="1" height="7" fill="#c0c0c0"/>
<rect x="77" y="661" width="1" height="5" fill="#c0c0c0"/>
<rect x="81" y="661" width="1" height="5" fill="#c0c0c0"/>
<rect x="85" y="661" width="1" height="5" fill="#c0c0c0"/>
<rect x="89" y="661" width="1" height="7" fill="#c0c0c0"/>
<rect x="93" y="661" width="1" height="8" fill="#c0c0c0"/>
<rect x="97" y="661" width="1" height="9" fill="#c0c0c0"/>
<rect x="101" y="661" width="1" height="8" fill="#c0c0c0"/>
<rect x="105" y="661" width="1" height="8" fill="#c0c0c0"/>
<rect x="109" y="661" width="1" height="5" fill="#c0c0c0"/>
<rect x="113" y="661" width="1" height="2" fill="#c0c0c0"/>
<rect x="117" y="659" width="1" height="3" fill="#c0c0c0"/>
<rect x="121" y="657" width="1" height="5" fill="#c0c0c0"/>
<rect x="125" y="657" width="1" height="5" fill="#c0c0c0"/>
<rect x="129" y="657" width="1" height="5" fill="#c0c0c0"/>
<rect x="133" y="655" width="1" height="7" fill="#c0c0c0"/>
<rect x="137" y="659" width="1" height="3" fill="#c0c0c0"/>
<rect x="141" y="661" width="1" height="1" fill="#c0c0c0"/>
<rect x="145" y="661" width="1" height="8" fill="#c0c0c0"/>
<rect x="149" y="661" width="1" height="10" fill="#c0c0c0"/>
<rect x="153" y="661" width="1" height="15" fill="#c0c0c0"/>
<rect x="157" y="661" width="1" height="17" fill="#c0c0c0"/>
<rect x="161" y="661" width="1" height="20" fill="#c0c0c0"/>
<rect x="165" y="661" width="1" height="21" fill="#c0c0c0"/>
<rect x="169" y="661" width="1" height="24" fill="#c0c0c0"/>
<rect x="173" y="661" width="1" height="23" fill="#c0c0c0"/>
<rect x="177" y="661" width="1" height="23" fill="#c0c0c0"/>
<rect x="181" y="661" width="1" height="21" fill="#c0c0c0"/>
<rect x="185" y="661" width="1" height="18" fill="#c0c0c0"/>
<rect x="189" y="661" width="1" height="16" fill="#c0c0c0"/>
<rect x="193" y="661" width="1" height="13" fill="#c0c0c0"/>
<rect x="197" y="661" width="1" height="12" fill="#c0c0c0"/>
<rect x="201" y="661" width="1" height="9" fill="#c0c0c0"/>
<rect x="205" y="661" width="1" height="7" fill="#c0c0c0"/>
<rect x="209" y="661" width="1" height="8" fill="#c0c0c0"/>
<rect x="213" y="661" width="1" height="9" fill="#c0c0c0"/>
<rect x="217" y="661" width="1" height="9" fill="#c0c0c0"/>
<rect x="221" y="661" width="1" height="7" fill="#c0c0c0"/>
<rect x="225" y="661" width="1" height="5" fill="#c0c0c0"/>
<rect x="229" y="661" width="1" height="2" fill="#c0c0c0"/>
<rect x="233" y="658" width="1" height="4" fill="#c0c0c0"/>
<rect x="237" y="654" width="1" height="8" fill="#c0c0c0"/>
<rect x="241" y="652" width="1" height="10" fill="#c0c0c0"/>
<rect x="245" y="651" width="1" height="11" fill="#c0c0c0"/>
<rect x="249" y="653" width="1" height="9" fill="#c0c0c0"/>
<rect x="253" y="652" width="1" height="10" fill="#c0c0c0"/>
<rect x="257" y="652" width="1" height="10" fill="#c0c0c0"/>
<rect x="261" y="652" width="1" height="10" fill="#c0c0c0"/>
<rect x="265" y="650" width="1" height="12" fill="#c0c0c0"/>
<rect x="269" y="649" width="1" height="13" fill="#c0c0c0"/>
<rect x="273" y="647" width="1" height="15" fill="#c0c0c0"/>
<rect x="277" y="648" width="1" height="14" fill="#c0c0c0"/>
<rect x="281" y="648" width="1" height="14" fill="#c0c0c0"/>
<rect x="285" y="648" width="1" height="14" fill="#c0c0c0"/>
<rect x="289" y="647" width="1" height="15" fill="#c0c0c0"/>
<rect x="293" y="647" width="1" height="15" fill="#c0c0c0"/>
<rect x="297" y="646" width="1" height="16" fill="#c0c0c0"/>
<rect x="301" y="646" width="1" height="16" fill="#c0c0c0"/>
<rect x="305" y="646" width="1" height="16" fill="#c0c0c0"/>
<rect x="309" y="647" width="1" height="15" fill="#c0c0c0"/>
<rect x="313" y="649" width="1" height="13" fill="#c0c0c0"/>
<rect x="317" y="651" width="1" height="11" fill="#c0c0c0"/>
<rect x="321" y="652" width="1" height="10" fill="#c0c0c0"/>
<rect x="325" y="652" width="1" height="10" fill="#c0c0c0"/>
<rect x="329" y="652" width="1" height="10" fill="#c0c0c0"/>
<rect x="333" y="653" width="1" height="9" fill="#c0c0c0"/>
<rect x="337" y="651" width="1" height="11" fill="#c0c0c0"/>
<rect x="341" y="651" width="1" height="11" fill="#c0c0c0"/>
<rect x="345" y="649" width="1" height="13" fill="#c0c0c0"/>
<rect x="349" y="648" width="1" height="14" fill="#c0c0c0"/>
<rect x="353" y="648" width="1" height="14" fill="#c0c0c0"/>
<rect x="357" y="649" width="1" height="13" fill="#c0c0c0"/>
<rect x="361" y="650" width="1" height="12" fill="#c0c0c0"/>
<rect x="365" y="651" width="1" height="11" fill="#c0c0c0"/>
<rect x="369" y="651" width="1" height="11" fill="#c0c0c0"/>
<rect x="373" y="651" width="1" height="11" fill="#c0c0c0"/>
<rect x="377" y="651" width="1" height="11" fill="#c0c0c0"/>
<rect x="381" y="651" width="1" height="11" fill="#c0c0c0"/>
<rect x="385" y="651" width="1" height="11" fill="#c0c0c0"/>
<rect x="389" y="650" width="1" height="12" fill="#c0c0c0"/>
<rect x="393" y="651" width="1" height="11" fill="#c0c0c0"/>
<rect x="397" y="656" width="1" height="6" fill="#c0c0c0"/>
<rect x="401" y="660" width="1" height="2" fill="#c0c0c0"/>
<rect x="405" y="661" width="1" height="3" fill="#c0c0c0"/>
<rect x="409" y="661" width="1" height="5" fill="#c0c0c0"/>
<rect x="413" y="661" width="1" height="6" fill="#c0c0c0"/>
<rect x="417" y="661" width="1" height="5" fill="#c0c0c0"/>
<rect x="421" y="661" width="1" height="4" fill="#c0c0c0"/>
<rect x="425" y="661" width="1" height="3" fill="#c0c0c0"/>
<rect x="429" y="661" width="1" height="1" fill="#c0c0c0"/>
<rect x="433" y="660" width="1" height="2" fill="#c0c0c0"/>
<rect x="437" y="659" width="1" height="3" fill="#c0c0c0"/>
<rect x="441" y="660" width="1" height="2" fill="#c0c0c0"/>
<rect x="445" y="661" width="1" height="3" fill="#c0c0c0"/>
<rect x="449" y="661" width="1" height="5" fill="#c0c0c0"/>
<rect x="453" y="661" width="1" height="7" fill="#c0c0c0"/>
<rect x="457" y="661" width="1" height="8" fill="#c0c0c0"/>
<rect x="461" y="661" width="1" height="6" fill="#c0c0c0"/>
<rect x="465" y="661" width="1" height="5" fill="#c0c0c0"/>
<rect x="469" y="661" width="1" height="3" fill="#c0c0c0"/>
<rect x="473" y="660" width="1" height="2" fill="#c0c0c0"/>
<rect x="477" y="658" width="1" height="4" fill="#c0c0c0"/>
<rect x="481" y="657" width="1" height="5" fill="#c0c0c0"/>
<rect x="485" y="657" width="1" height="5" fill="#c0c0c0"/>
<rect x="489" y="659" width="1" height="3" fill="#c0c0c0"/>
<rect x="493" y="661" width="1" height="1" fill="#c0c0c0"/>
<rect x="497" y="661" width="1" height="2" fill="#c0c0c0"/>
<rect x="501" y="661" width="1" height="3" fill="#c0c0c0"/>
<rect x="505" y="661" width="1" height="4" fill="#c0c0c0"/>
<rect x="509" y="661" width="1" height="4" fill="#c0c0c0"/>
<rect x="513" y="661" width="1" height="3" fill="#c0c0c0"/>
<rect x="517" y="661" width="1" height="3" fill="#c0c0c0"/>
<rect x="521" y="661" width="1" height="1" fill="#c0c0c0"/>
<rect x="525" y="658" width="1" height="4" fill="#c0c0c0"/>
<rect x="529" y="657" width="1" height="5" fill="#c0c0c0"/>
<rect x="533" y="655" width="1" height="7" fill="#c0c0c0"/>
<rect x="537" y="653" width="1" height="9" fill="#c0c0c0"/>
<rect x="541" y="652" width="1" height="10" fill="#c0c0c0"/>
<rect x="545" y="651" width="1" height="11" fill="#c0c0c0"/>
<rect x="549" y="650" width="1" height="12" fill="#c0c0c0"/>
<rect x="553" y="653" width="1" height="9" fill="#c0c0c0"/>
<rect x="557" y="657" width="1" height="5" fill="#c0c0c0"/>
<rect x="561" y="660" width="1" height="2" fill="#c0c0c0"/>
<rect x="565" y="661" width="1" height="2" fill="#c0c0c0"/>
<rect x="569" y="661" width="1" height="3" fill="#c0c0c0"/>
<rect x="573" y="661" width="1" height="4" fill="#c0c0c0"/>
<rect x="577" y="661" width="1" height="5" fill="#c0c0c0"/>
<rect x="581" y="661" width="1" height="7" fill="#c0c0c0"/>
<rect x="585" y="661" width="1" height="9" fill="#c0c0c0"/>
<rect x="589" y="661" width="1" height="9" fill="#c0c0c0"/>
<rect x="593" y="661" width="1" height="11" fill="#c0c0c0"/>
<rect x="597" y="661" width="1" height="12" fill="#c0c0c0"/>
<rect x="601" y="661" width="1" height="13" fill="#c0c0c0"/>
<rect x="605" y="661" width="1" height="15" fill="#c0c0c0"/>
<rect x="609" y="661" width="1" height="16" fill="#c0c0c0"/>
<rect x="613" y="661" width="1" height="18" fill="#c0c0c0"/>
<rect x="617" y="661" width="1" height="18" fill="#c0c0c0"/>
<rect x="621" y="661" width="1" height="17" fill="#c0c0c0"/>
<rect x="625" y="661" width="1" height="16" fill="#c0c0c0"/>
<rect x="629" y="661" width="1" height="17" fill="#c0c0c0"/>
<rect x="633" y="661" width="1" height="17" fill="#c0c0c0"/>
<rect x="637" y="661" width="1" height="16" fill="#c0c0c0"/>
<rect x="641" y="661" width="1" height="18" fill="#c0c0c0"/>
<rect x="645" y="661" width="1" height="20" fill="#c0c0c0"/>
<rect x="649" y="661" width="1" height="23" fill="#c0c0c0"/>
<rect x="653" y="661" width="1" height="26" fill="#c0c0c0"/>
<rect x="657" y="661" width="1" height="28" fill="#c0c0c0"/>
<rect x="661" y="661" width="1" height="28" fill="#c0c0c0"/>
<rect x="665" y="661" width="1" height="28" fill="#c0c0c0"/>
<rect x="669" y="661" width="1" height="27" fill="#c0c0c0"/>
<rect x="673" y="661" width="1" height="26" fill="#c0c0c0"/>
<rect x="677" y="661" width="1" height="25" fill="#c0c0c0"/>
<rect x="681" y="661" width="1" height="24" fill="#c0c0c0"/>
<rect x="685" y="661" width="1" height="22" fill="#c0c0c0"/>
<rect x="689" y="661" width="1" height="20" fill="#c0c0c0"/>
<rect x="693" y="661" width="1" height="19" fill="#c0c0c0"/>
<rect x="697" y="661" width="1" height="18" fill="#c0c0c0"/>
<rect x="701" y="661" width="1" height="19" fill="#c0c0c0"/>
<rect x="705" y="661" width="1" height="20" fill="#c0c0c0"/>
<rect x="709" y="661" width="1" height="22" fill="#c0c0c0"/>
<rect x="713" y="661" width="1" height="21" fill="#c0c0c0"/>
<rect x="717" y="661" width="1" height="20" fill="#c0c0c0"/>
<rect x="721" y="661" width="1" height="18" fill="#c0c0c0"/>
<rect x="725" y="661" width="1" height="18" fill="#c0c0c0"/>
<rect x="729" y="661" width="1" height="16" fill="#c0c0c0"/>
<rect x="733" y="661" width="1" height="15" fill="#c0c0c0"/>
<rect x="737" y="661" width="1" height="13" fill="#c0c0c0"/>
<rect x="741" y="661" width="1" height="12" fill="#c0c0c0"/>
<rect x="745" y="661" width="1" height="11" fill="#c0c0c0"/>
<rect x="749" y="661" width="1" height="8" fill="#c0c0c0"/>
<rect x="753" y="661" width="1" height="6" fill="#c0c0c0"/>
<rect x="757" y="661" width="1" height="7" fill="#c0c0c0"/>
<rect x="761" y="661" width="1" height="9" fill="#c0c0c0"/>
<rect x="765" y="661" width="1" height="11" fill="#c0c0c0"/>
<rect x="769" y="661" width="1" height="11" fill="#c0c0c0"/>
<rect x="773" y="661" width="1" height="10" fill="#c0c0c0"/>
<rect x="777" y="661" width="1" height="7" fill="#c0c0c0"/>
<rect x="781" y="661" width="1" height="4" fill="#c0c0c0"/>
<rect x="785" y="661" width="1" height="2" fill="#c0c0c0"/>
<rect x="789" y="659" width="1" height="3" fill="#c0c0c0"/>
<rect x="793" y="657" width="1" height="5" fill="#c0c0c0"/>
<rect x="797" y="655" width="1" height="7" fill="#c0c0c0"/>
<rect x="801" y="655" width="1" height="7" fill="#c0c0c0"/>
<rect x="805" y="653" width="1" height="9" fill="#c0c0c0"/>
<rect x="809" y="651" width="1" height="11" fill="#c0c0c0"/>
<rect x="813" y="649" width="1" height="13" fill="#c0c0c0"/>
<rect x="817" y="648" width="1" height="14" fill="#c0c0c0"/>
<rect x="821" y="647" width="1" height="15" fill="#c0c0c0"/>
<rect x="825" y="646" width="1" height="16" fill="#c0c0c0"/>
<rect x="829" y="646" width="1" height="16" fill="#c0c0c0"/>
<rect x="833" y="647" width="1" height="15" fill="#c0c0c0"/>
<rect x="837" y="649" width="1" height="13" fill="#c0c0c0"/>
<rect x="841" y="650" width="1" height="12" fill="#c0c0c0"/>
<rect x="845" y="652" width="1" height="10" fill="#c0c0c0"/>
<rect x="849" y="653" width="1" height="9" fill="#c0c0c0"/>
<rect x="853" y="657" width="1" height="5" fill="#c0c0c0"/>
<rect x="857" y="661" width="1" height="1" fill="#c0c0c0"/>
<rect x="861" y="661" width="1" height="5" fill="#c0c0c0"/>
<rect x="865" y="661" width="1" height="11" fill="#c0c0c0"/>
<rect x="869" y="661" width="1" height="17" fill="#c0c0c0"/>
<rect x="873" y="661" width="1" height="22" fill="#c0c0c0"/>
<rect x="877" y="661" width="1" height="27" fill="#c0c0c0"/>
<rect x="881" y="661" width="1" height="36" fill="#c0c0c0"/>
<rect x="885" y="661" width="1" height="44" fill="#c0c0c0"/>
<rect x="889" y="661" width="1" height="52" fill="#c0c0c0"/>
<rect x="893" y="661" width="1" height="56" fill="#c0c0c0"/>
<rect x="897" y="661" width="1" height="57" fill="#c0c0c0"/>
<rect x="901" y="661" width="1" height="50" fill="#c0c0c0"/>
<rect x="905" y="661" width="1" height="44" fill="#c0c0c0"/>
<rect x="909" y="661" width="1" height="39" fill="#c0c0c0"/>
<rect x="913" y="661" width="1" height="37" fill="#c0c0c0"/>
<rect x="917" y="661" width="1" height="29" fill="#c0c0c0"/>
<rect x="921" y="661" width="1" height="18" fill="#c0c0c0"/>
<rect x="925" y="661" width="1" height="5" fill="#c0c0c0"/>
<rect x="929" y="653" width="1" height="9" fill="#c0c0c0"/>
<rect x="933" y="643" width="1" height="19" fill="#c0c0c0"/>
<rect x="937" y="639" width="1" height="23" fill="#c0c0c0"/>
<rect x="941" y="636" width="1" height="26" fill="#c0c0c0"/>
<rect x="945" y="635" width="1" height="27" fill="#c0c0c0"/>
<rect x="949" y="640" width="1" height="22" fill="#c0c0c0"/>
<rect x="953" y="648" width="1" height="14" fill="#c0c0c0"/>
<rect x="957" y="656" width="1" height="6" fill="#c0c0c0"/>
<rect x="961" y="659" width="1" height="3" fill="#c0c0c0"/>
<rect x="965" y="660" width="1" height="2" fill="#c0c0c0"/>
<rect x="969" y="659" width="1" height="3" fill="#c0c0c0"/>
<rect x="973" y="656" width="1" height="6" fill="#c0c0c0"/>
<rect x="977" y="652" width="1" height="10" fill="#c0c0c0"/>
<rect x="981" y="650" width="1" height="12" fill="#c0c0c0"/>
<rect x="985" y="647" width="1" height="15" fill="#c0c0c0"/>
<rect x="989" y="648" width="1" height="14" fill="#c0c0c0"/>
<rect x="993" y="649" width="1" height="13" fill="#c0c0c0"/>
<rect x="997" y="652" width="1" height="10" fill="#c0c0c0"/>
<rect x="1001" y="655" width="1" height="7" fill="#c0c0c0"/>
<rect x="1005" y="657" width="1" height="5" fill="#c0c0c0"/>
<rect x="1009" y="658" width="1" height="4" fill="#c0c0c0"/>
<rect x="1013" y="661" width="1" height="1" fill="#c0c0c0"/>
<rect x="1017" y="661" width="1" height="1" fill="#c0c0c0"/>
<rect x="1021" y="660" width="1" height="2" fill="#c0c0c0"/>
<rect x="1025" y="661" width="1" height="1" fill="#c0c0c0"/>
<rect x="1029" y="661" width="1" height="1" fill="#c0c0c0"/>
<rect x="1033" y="661" width="1" height="1" fill="#c0c0c0"/>
<rect x="1037" y="660" width="1" height="2" fill="#c0c0c0"/>
<rect x="1041" y="659" width="1" height="3" fill="#c0c0c0"/>
<rect x="1045" y="657" width="1" height="5" fill="#c0c0c0"/>
<rect x="1049" y="655" width="1" height="7" fill="#c0c0c0"/>
<rect x="1053" y="653" width="1" height="9" fill="#c0c0c0"/>
<rect x="1057" y="652" width="1" height="10" fill="#c0c0c0"/>
<rect x="1061" y="651" width="1" height="11" fill="#c0c0c0"/>
<rect x="1065" y="651" width="1" height="11" fill="#c0c0c0"/>
<rect x="1069" y="654" width="1" height="8" fill="#c0c0c0"/>
<rect x="1073" y="659" width="1" height="3" fill="#c0c0c0"/>
<rect x="1077" y="661" width="1" height="2" fill="#c0c0c0"/>
<rect x="1081" y="661" width="1" height="4" fill="#c0c0c0"/>
<rect x="1085" y="661" width="1" height="2" fill="#c0c0c0"/>
<rect x="1089" y="659" width="1" height="3" fill="#c0c0c0"/>
<rect x="1093" y="657" width="1" height="5" fill="#c0c0c0"/>
<rect x="1097" y="658" width="1" height="4" fill="#c0c0c0"/>
<rect x="1101" y="658" width="1" height="4" fill="#c0c0c0"/>
<rect x="1105" y="657" width="1" height="5" fill="#c0c0c0"/>
<rect x="1109" y="658" width="1" height="4" fill="#c0c0c0"/>
<rect x="1113" y="658" width="1" height="4" fill="#c0c0c0"/>
<rect x="1117" y="658" width="1" height="4" fill="#c0c0c0"/>
<rect x="1121" y="657" width="1" height="5" fill="#c0c0c0"/>
<rect x="1125" y="657" width="1" height="5" fill="#c0c0c0"/>
<rect x="1129" y="658" width="1" height="4" fill="#c0c0c0"/>
<rect x="1133" y="657" width="1" height="5" fill="#c0c0c0"/>
<rect x="1137" y="660" width="1" height="2" fill="#c0c0c0"/>
<rect x="1141" y="660" width="1" height="2" fill="#c0c0c0"/>
<rect x="1145" y="660" width="1" height="2" fill="#c0c0c0"/>
<rect x="1149" y="659" width="1" height="3" fill="#c0c0c0"/>
<rect x="1153" y="659" width="1" height="3" fill="#c0c0c0"/>
<rect x="1157" y="661" width="1" height="1" fill="#c0c0c0"/>
<rect x="1161" y="661" width="1" height="1" fill="#c0c0c0"/>
<rect x="1165" y="661" width="1" height="4" fill="#c0c0c0"/>
<rect x="1169" y="661" width="1" height="7" fill="#c0c0c0"/>
<rect x="1173" y="661" width="1" height="9" fill="#c0c0c0"/>
<rect x="1177" y="661" width="1" height="11" fill="#c0c0c0"/>
<rect x="1181" y="661" width="1" height="11" fill="#c0c0c0"/>
<rect x="1185" y="661" width="1" height="13" fill="#c0c0c0"/>
<rect x="1189" y="661" width="1" height="15" fill="#c0c0c0"/>
<rect x="1193" y="661" width="1" height="15" fill="#c0c0c0"/>
<rect x="1197" y="661" width="1" height="14" fill="#c0c0c0"/>
<rect x="1201" y="661" width="1" height="16" fill="#c0c0c0"/>
<rect x="1205" y="661" width="1" height="20" fill="#c0c0c0"/>
<rect x="1209" y="661" width="1" height="25" fill="#c0c0c0"/>
<rect x="1213" y="661" width="1" height="32" fill="#c0c0c0"/>
<rect x="1217" y="661" width="1" height="31" fill="#c0c0c0"/>
<rect x="1221" y="661" width="1" height="28" fill="#c0c0c0"/>
<rect x="1225" y="661" width="1" height="28" fill="#c0c0c0"/>
<rect x="1229" y="661" width="1" height="28" fill="#c0c0c0"/>
<rect x="1233" y="661" width="1" height="27" fill="#c0c0c0"/>
<rect x="1237" y="661" width="1" height="25" fill="#c0c0c0"/>
<rect x="1241" y="661" width="1" height="24" fill="#c0c0c0"/>
<rect x="1245" y="661" width="1" height="22" fill="#c0c0c0"/>
<rect x="1249" y="661" width="1" height="23" fill="#c0c0c0"/>
<rect x="1253" y="661" width="1" height="24" fill="#c0c0c0"/>
<rect x="1257" y="661" width="1" height="24" fill="#c0c0c0"/>
<rect x="1261" y="661" width="1" height="23" fill="#c0c0c0"/>
<rect x="1265" y="661" width="1" height="22" fill="#c0c0c0"/>
<rect x="1269" y="661" width="1" height="21" fill="#c0c0c0"/>
<rect x="1598" y="661" width="1" height="1" fill="#000"/><rect x="1598" y="627" width="1" height="1" fill="#000"/><rect x="1598" y="721" width="1" height="1" fill="#000"/>
</g>
<path d="M5 682.5h1M6 683.5h2M11 686.5h2M13 687.5h1M17 690.5h2M19 691.5h1M23 693.5h2M25 694.5h1M29 694.5h3M35 694.5h1M36 693.5h2M41 690.5h2M43 689.5h1M47 686.5h1M48 685.5h1M49 684.5h1M53 681.5h1M54 680.5h1M55 679.5h1M59 676.5h1M60 675.5h1M61 674.5h1M65 671.5h2M67 670.5h1M71 668.5h2M73 667.5h1M77 666.5h3M83 665.5h3M89 665.5h3M95 666.5h3M101 667.5h3M107 667.5h3M113 666.5h3M119 665.5h3M125 664.5h2M127 663.5h1M131 662.5h1M132 661.5h2M137 660.5h3M143 659.5h3M149 660.5h2M151 661.5h1M155 663.5h2M157 664.5h1M161 667.5h1M162 668.5h2M167 671.5h1M168 672.5h1M169 673.5h1M173 675.5h1M174 676.5h2M179 678.5h1M180 679.5h2M185 680.5h3M191 680.5h3M197 679.5h3M203 677.5h2M205 676.5h1M209 674.5h3M215 672.5h2M217 671.5h1M221 670.5h3M227 669.5h1M228 668.5h2M233 666.5h2M235 665.5h1M239 664.5h1M240 663.5h2M245 661.5h2M247 660.5h1M251 658.5h2M253 657.5h1M257 655.5h3M263 654.5h1M264 653.5h2M269 652.5h3M275 651.5h1M276 650.5h2M281 650.5h3M287 649.5h3M293 648.5h3M299 648.5h1M300 647.5h2M305 647.5h3M311 647.5h3M317 648.5h3M323 648.5h1M324 649.5h2M329 649.5h3M335 650.5h3M341 651.5h3M347 651.5h3M353 651.5h3M359 650.5h3M365 650.5h3M371 650.5h3M377 650.5h3M383 650.5h3M389 650.5h3M395 651.5h3M401 652.5h2M403 653.5h1M407 654.5h1M408 655.5h2M413 657.5h2M415 658.5h1M419 659.5h1M420 660.5h2M425 662.5h3M431 663.5h3M437 663.5h3M443 663.5h1M444 662.5h2M449 662.5h3M455 663.5h3M461 663.5h3M467 664.5h3M473 664.5h3M479 664.5h1M480 663.5h2M485 662.5h3M491 661.5h3M497 660.5h3M503 660.5h3M509 660.5h3M515 661.5h1M516 662.5h2M521 662.5h3M527 662.5h3M533 661.5h3M539 659.5h2M541 658.5h1M545 657.5h3M551 655.5h2M553 654.5h1M557 654.5h3M563 654.5h1M564 655.5h2M569 656.5h3M575 657.5h1M576 658.5h2M581 660.5h2M583 661.5h1M587 663.5h2M589 664.5h1M593 666.5h3M599 667.5h1M600 668.5h2M605 670.5h3M611 671.5h1M612 672.5h2M617 673.5h3M623 674.5h1M624 675.5h2M629 676.5h3M635 676.5h1M636 677.5h2M641 677.5h3M647 677.5h1M648 678.5h2M653 679.5h3M659 680.5h1M660 681.5h2M665 683.5h3M671 684.5h1M672 685.5h2M677 686.5h3M683 686.5h3M689 685.5h3M695 684.5h1M696 683.5h2M701 682.5h3M707 682.5h1M708 681.5h2M713 681.5h3M719 680.5h3M725 679.5h3M731 679.5h3M737 678.5h3M743 677.5h1M744 676.5h2M749 675.5h2M751 674.5h1M755 673.5h1M756 672.5h2M761 671.5h3M767 670.5h3M773 669.5h3M779 669.5h1M780 668.5h2M785 667.5h3M791 667.5h1M792 666.5h2M797 664.5h2M799 663.5h1M803 661.5h2M805 660.5h1M809 658.5h2M811 657.5h1M815 655.5h2M817 654.5h1M821 653.5h2M823 652.5h1M827 651.5h1M828 650.5h2M833 649.5h3M839 648.5h3M845 648.5h3M851 649.5h1M852 650.5h2M857 651.5h2M859 652.5h1M863 654.5h1M864 655.5h1M865 656.5h1M869 659.5h1M870 660.5h1M871 661.5h1M875 665.5h1M876 666.5h1M877 667.5h1M880 671.5h1M881 672.5h1M882 673.5h1M884 677.5h1M885 678.5h1M886 679.5h1M888 683.5h1M889 684.5h1M890 685.5h1M892 689.5h1M893 690.5h1M894 691.5h1M896 695.5h1M897 696.5h1M898 697.5h1M902 701.5h2M904 702.5h1M908 704.5h1M909 705.5h2M914 706.5h2M916 705.5h1M920 703.5h1M921 702.5h1M922 701.5h1M925 697.5h1M926.5 695v2M928 691.5h1M929.5 689v2M931 685.5h1M932.5 683v2M934 679.5h1M935.5 677v2M937 673.5h1M938.5 671v2M940 667.5h1M941 666.5h1M942 665.5h1M944.5 660v2M945 659.5h1M948.5 654v2M949 653.5h1M953 649.5h1M954 648.5h2M959 646.5h1M960 645.5h2M965 646.5h2M967 647.5h1M971 649.5h2M973 650.5h1M977 652.5h3M983 653.5h1M984 654.5h2M989 654.5h3M995 653.5h3M1001 652.5h3M1007 652.5h3M1013 653.5h3M1019 655.5h2M1021 656.5h1M1025 657.5h3M1031 658.5h1M1032 659.5h2M1037 660.5h3M1043 660.5h3M1049 659.5h3M1055 658.5h1M1056 657.5h2M1061 656.5h3M1067 655.5h1M1068 654.5h2M1073 654.5h3M1079 655.5h3M1085 656.5h3M1091 657.5h1M1092 658.5h2M1097 658.5h3M1103 659.5h1M1104 660.5h2M1109 660.5h3M1115 659.5h1M1116 658.5h2M1121 658.5h3M1127 658.5h3M1133 658.5h3M1139 658.5h3M1145 658.5h3M1151 658.5h1M1152 659.5h2M1157 659.5h3M1163 659.5h1M1164 660.5h2M1169 661.5h3M1175 662.5h1M1176 663.5h2M1181 665.5h3M1187 667.5h2M1189 668.5h1M1193 669.5h2M1195 670.5h1M1199 671.5h1M1200 672.5h2M1205 674.5h2M1207 675.5h1M1211 677.5h2M1213 678.5h1M1217 680.5h2M1219 681.5h1M1223 682.5h1M1224 683.5h2M1229 685.5h3M1235 686.5h1M1236 687.5h2M1241 688.5h3M1247 687.5h1M1248 686.5h2M1253 685.5h3M1259 685.5h1M1260 684.5h2M1265 684.5h3" fill="none" stroke="#ff0000" stroke-width="1" shape-rendering="crispEdges"/>
<text transform="translate(9 641.7) scale(0.9394 1)" font-size="9.9" fill="#000" text-anchor="start">MACD(12,26,9) -0.003880 -0.004269</text>
<text transform="translate(1601 639.5) scale(0.9394 1)" font-size="9.9" fill="#000" text-anchor="start">0.005818</text>
<text transform="translate(1601 664.5) scale(0.9394 1)" font-size="9.9" fill="#000" text-anchor="start">0.00</text>
<text transform="translate(1601 717.5) scale(0.9394 1)" font-size="9.9" fill="#000" text-anchor="start">-0.011514</text>
<g shape-rendering="crispEdges">
<rect x="5" y="722" width="1" height="3" fill="#000"/>
<rect x="69" y="722" width="1" height="3" fill="#000"/>
<rect x="133" y="722" width="1" height="3" fill="#000"/>
<rect x="197" y="722" width="1" height="3" fill="#000"/>
<rect x="261" y="722" width="1" height="3" fill="#000"/>
<rect x="325" y="722" width="1" height="3" fill="#000"/>
<rect x="389" y="722" width="1" height="3" fill="#000"/>
<rect x="453" y="722" width="1" height="3" fill="#000"/>
<rect x="517" y="722" width="1" height="3" fill="#000"/>
<rect x="581" y="722" width="1" height="3" fill="#000"/>
<rect x="645" y="722" width="1" height="3" fill="#000"/>
<rect x="709" y="722" width="1" height="3" fill="#000"/>
<rect x="773" y="722" width="1" height="3" fill="#000"/>
<rect x="837" y="722" width="1" height="3" fill="#000"/>
<rect x="901" y="722" width="1" height="3" fill="#000"/>
<rect x="965" y="722" width="1" height="3" fill="#000"/>
<rect x="1029" y="722" width="1" height="3" fill="#000"/>
<rect x="1093" y="722" width="1" height="3" fill="#000"/>
<rect x="1157" y="722" width="1" height="3" fill="#000"/>
<rect x="1221" y="722" width="1" height="3" fill="#000"/>
</g>
<text transform="translate(4 733.8) scale(0.9168 1)" font-size="9.9" fill="#000" text-anchor="start">25 Jun 2019</text>
<text transform="translate(68 733.8) scale(0.9168 1)" font-size="9.9" fill="#000" text-anchor="start">13 Jul 2019</text>
<text transform="translate(132 733.8) scale(0.9168 1)" font-size="9.9" fill="#000" text-anchor="start">1 Aug 2019</text>
<text transform="translate(196 733.8) scale(0.9168 1)" font-size="9.9" fill="#000" text-anchor="start">20 Aug 2019</text>
<text transform="translate(260 733.8) scale(0.9168 1)" font-size="9.9" fill="#000" text-anchor="start">7 Sep 2019</text>
<text transform="translate(324 733.8) scale(0.9168 1)" font-size="9.9" fill="#000" text-anchor="start">26 Sep 2019</text>
<text transform="translate(388 733.8) scale(0.9168 1)" font-size="9.9" fill="#000" text-anchor="start">15 Oct 2019</text>
<text transform="translate(452 733.8) scale(0.9168 1)" font-size="9.9" fill="#000" text-anchor="start">2 Nov 2019</text>
<text transform="translate(516 733.8) scale(0.9168 1)" font-size="9.9" fill="#000" text-anchor="start">21 Nov 2019</text>
<text transform="translate(580 733.8) scale(0.9168 1)" font-size="9.9" fill="#000" text-anchor="start">10 Dec 2019</text>
<text transform="translate(644 733.8) scale(0.9168 1)" font-size="9.9" fill="#000" text-anchor="start">28 Dec 2019</text>
<text transform="translate(708 733.8) scale(0.9168 1)" font-size="9.9" fill="#000" text-anchor="start">16 Jan 2020</text>
<text transform="translate(772 733.8) scale(0.9168 1)" font-size="9.9" fill="#000" text-anchor="start">4 Feb 2020</text>
<text transform="translate(836 733.8) scale(0.9168 1)" font-size="9.9" fill="#000" text-anchor="start">22 Feb 2020</text>
<text transform="translate(900 733.8) scale(0.9168 1)" font-size="9.9" fill="#000" text-anchor="start">12 Mar 2020</text>
<text transform="translate(964 733.8) scale(0.9168 1)" font-size="9.9" fill="#000" text-anchor="start">31 Mar 2020</text>
<text transform="translate(1028 733.8) scale(0.9168 1)" font-size="9.9" fill="#000" text-anchor="start">18 Apr 2020</text>
<text transform="translate(1092 733.8) scale(0.9168 1)" font-size="9.9" fill="#000" text-anchor="start">7 May 2020</text>
<text transform="translate(1156 733.8) scale(0.9168 1)" font-size="9.9" fill="#000" text-anchor="start">26 May 2020</text>
<text transform="translate(1220 733.8) scale(0.9168 1)" font-size="9.9" fill="#000" text-anchor="start">13 Jun 2020</text>
<g shape-rendering="crispEdges">
<rect x="0" y="742" width="1638" height="1" fill="#e9e9e9"/>
<rect x="0" y="744" width="1638" height="1" fill="#000"/>
<rect x="0" y="745" width="1638" height="1" fill="#fafafa"/>
<rect x="0" y="746" width="1638" height="18" fill="#f0f0f0"/>
<rect x="0" y="764" width="1638" height="1" fill="#ffffff"/>
<rect x="0" y="765" width="1638" height="3" fill="#f0f0f0"/>
<rect x="0" y="768" width="1638" height="1" fill="#a0a0a0"/>
<rect x="0" y="769" width="1638" height="1" fill="#e3e3e3"/>
<rect x="0" y="745" width="1" height="19" fill="#a0a0a0"/><rect x="1" y="745" width="1" height="18" fill="#808080"/>
<rect x="110" y="744" width="100" height="19" fill="#fff"/>
<rect x="110" y="744" width="1" height="19" fill="#000"/><rect x="209" y="744" width="1" height="19" fill="#000"/><rect x="110" y="762" width="100" height="1" fill="#000"/>
<rect x="111" y="744" width="98" height="1" fill="#fff"/>
</g>
<text x="58" y="758.8" font-size="12" text-anchor="middle" fill="#6e6e6e">EURUSD,Daily</text>
<text x="159.8" y="758.8" font-size="12" text-anchor="middle" fill="#000">USDCHF,Daily</text>
<text x="262.3" y="758.8" font-size="12" text-anchor="middle" fill="#6e6e6e">AUDUSD,Daily</text>
<text x="365.8" y="758.8" font-size="12" text-anchor="middle" fill="#6e6e6e">USDCAD,Daily</text>
<text x="469.5" y="758.8" font-size="12" text-anchor="middle" fill="#6e6e6e">USDCNH,Daily</text>
<text x="571.8" y="758.8" font-size="12" text-anchor="middle" fill="#6e6e6e">EURUSD,M15</text>
<text x="672" y="758.8" font-size="12" text-anchor="middle" fill="#6e6e6e">GBPUSD,M30</text>
<text x="767.4" y="758.8" font-size="12" text-anchor="middle" fill="#6e6e6e">XAUUSD,H1</text>
<text x="850.3" y="758.8" font-size="12" text-anchor="middle" fill="#6e6e6e">HK50,H1</text>
<text x="925.6" y="758.8" font-size="12" text-anchor="middle" fill="#6e6e6e">UK100,H1</text>
<text x="1005.4" y="758.8" font-size="12" text-anchor="middle" fill="#6e6e6e">UK100,H1</text>
<text x="1085.2" y="758.8" font-size="12" text-anchor="middle" fill="#6e6e6e">GER30,H1</text>
<text x="1163.5" y="758.8" font-size="12" text-anchor="middle" fill="#6e6e6e">FRA40,H1</text>
<text x="1237.7" y="758.8" font-size="12" text-anchor="middle" fill="#6e6e6e">USOil,H4</text>
<text x="1315.4" y="758.8" font-size="12" text-anchor="middle" fill="#6e6e6e">USDJPY,H1</text>
<text x="1397.7" y="758.8" font-size="12" text-anchor="middle" fill="#6e6e6e">DJ30,M15</text>
<g shape-rendering="crispEdges">
<rect x="314" y="747" width="1" height="14" fill="#555"/>
<rect x="417" y="747" width="1" height="14" fill="#555"/>
<rect x="522" y="747" width="1" height="14" fill="#555"/>
<rect x="622" y="747" width="1" height="14" fill="#555"/>
<rect x="722" y="747" width="1" height="14" fill="#555"/>
<rect x="814" y="747" width="1" height="14" fill="#555"/>
<rect x="886" y="747" width="1" height="14" fill="#555"/>
<rect x="966" y="747" width="1" height="14" fill="#555"/>
<rect x="1046" y="747" width="1" height="14" fill="#555"/>
<rect x="1126" y="747" width="1" height="14" fill="#555"/>
<rect x="1203" y="747" width="1" height="14" fill="#555"/>
<rect x="1274" y="747" width="1" height="14" fill="#555"/>
<rect x="1358" y="747" width="1" height="14" fill="#555"/>
<rect x="1438" y="747" width="1" height="14" fill="#555"/>
</g>
<path d="M1617 749.5 L1617 757.5 L1612.5 753.5 Z" fill="#707070"/><path d="M1631.5 749.5 L1631.5 757.5 L1636 753.5 Z" fill="#707070"/>
</svg></body></html>
